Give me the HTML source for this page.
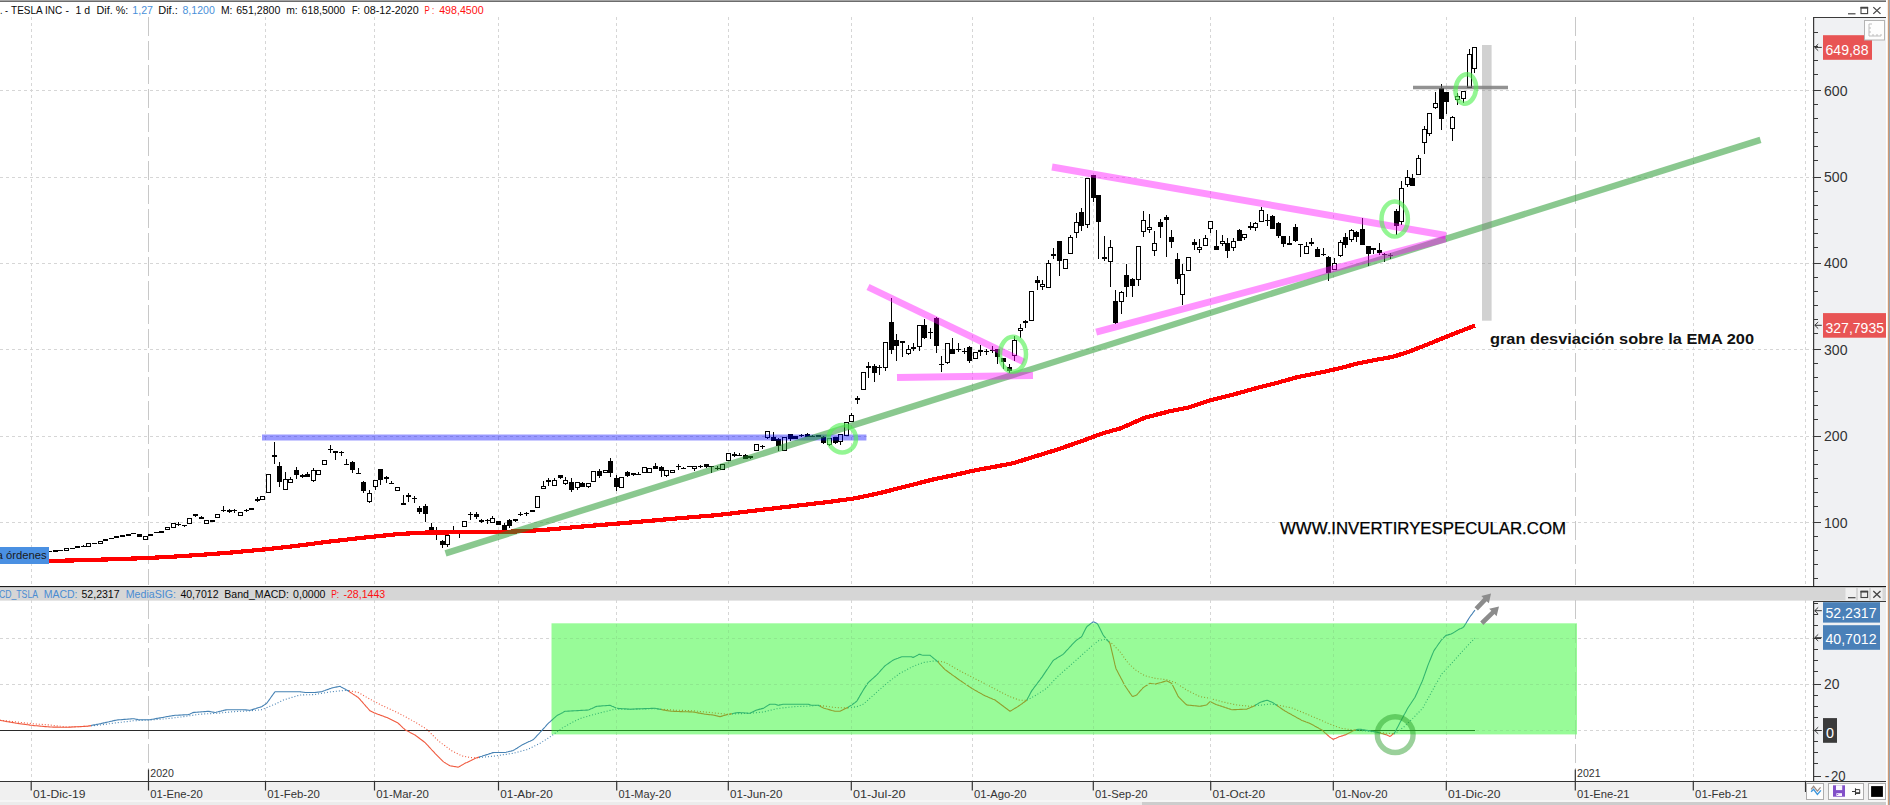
<!DOCTYPE html>
<html><head><meta charset="utf-8"><title>TESLA INC</title>
<style>html,body{margin:0;padding:0;background:#fff;}body{width:1890px;height:805px;overflow:hidden;position:relative;font-family:"Liberation Sans",sans-serif;}</style></head>
<body>
<svg width="1890" height="805" viewBox="0 0 1890 805" style="position:absolute;left:0;top:0;font-family:'Liberation Sans',sans-serif">
<rect x="0" y="0" width="1890" height="805" fill="#ffffff"/>
<rect x="1814" y="17" width="76" height="570" fill="#f0f1f3"/>
<rect x="1814" y="600" width="76" height="182" fill="#f0f1f3"/>
<rect x="0" y="782" width="1890" height="18" fill="#f0f0f0"/>
<rect x="0" y="800" width="1890" height="5" fill="#f6f6f6"/>
<rect x="0" y="802" width="1142" height="3" fill="#ececec"/>
<rect x="1142" y="802" width="748" height="3" fill="#cdcdcd"/>
<rect x="0" y="0" width="1886" height="1" fill="#a4a4a4"/><rect x="0" y="1" width="1886" height="1" fill="#6c6c6c"/>
<rect x="0" y="587" width="1886" height="13.6" fill="#d6d6d6"/>
<rect x="0" y="586" width="1886" height="1.1" fill="#1a1a1a"/>
<defs><clipPath id="cpIn"><rect x="551.5" y="623.3" width="1025.5" height="111.1"/></clipPath><clipPath id="cpOut"><path clip-rule="evenodd" d="M0,0 H1890 V805 H0 Z M551.5,623.3 V734.4 H1577 V623.3 Z"/></clipPath></defs>
<g shape-rendering="crispEdges">
<line x1="31.5" y1="17" x2="31.5" y2="585" stroke="#d6d6d6" stroke-width="1" stroke-dasharray="3 3"/>
<line x1="31.5" y1="600" x2="31.5" y2="781" stroke="#d6d6d6" stroke-width="1" stroke-dasharray="3 3" clip-path="url(#cpOut)"/>
<line x1="148.5" y1="17" x2="148.5" y2="585" stroke="#c8c8c8" stroke-width="1" stroke-dasharray="19 5"/>
<line x1="148.5" y1="600" x2="148.5" y2="781" stroke="#c8c8c8" stroke-width="1" stroke-dasharray="19 5" clip-path="url(#cpOut)"/>
<line x1="265.5" y1="17" x2="265.5" y2="585" stroke="#d6d6d6" stroke-width="1" stroke-dasharray="3 3"/>
<line x1="265.5" y1="600" x2="265.5" y2="781" stroke="#d6d6d6" stroke-width="1" stroke-dasharray="3 3" clip-path="url(#cpOut)"/>
<line x1="374.5" y1="17" x2="374.5" y2="585" stroke="#d6d6d6" stroke-width="1" stroke-dasharray="3 3"/>
<line x1="374.5" y1="600" x2="374.5" y2="781" stroke="#d6d6d6" stroke-width="1" stroke-dasharray="3 3" clip-path="url(#cpOut)"/>
<line x1="498.5" y1="17" x2="498.5" y2="585" stroke="#d6d6d6" stroke-width="1" stroke-dasharray="3 3"/>
<line x1="498.5" y1="600" x2="498.5" y2="781" stroke="#d6d6d6" stroke-width="1" stroke-dasharray="3 3" clip-path="url(#cpOut)"/>
<line x1="616.5" y1="17" x2="616.5" y2="585" stroke="#d6d6d6" stroke-width="1" stroke-dasharray="3 3"/>
<line x1="616.5" y1="600" x2="616.5" y2="781" stroke="#d6d6d6" stroke-width="1" stroke-dasharray="3 3" clip-path="url(#cpOut)"/>
<line x1="728.5" y1="17" x2="728.5" y2="585" stroke="#d6d6d6" stroke-width="1" stroke-dasharray="3 3"/>
<line x1="728.5" y1="600" x2="728.5" y2="781" stroke="#d6d6d6" stroke-width="1" stroke-dasharray="3 3" clip-path="url(#cpOut)"/>
<line x1="851.5" y1="17" x2="851.5" y2="585" stroke="#d6d6d6" stroke-width="1" stroke-dasharray="3 3"/>
<line x1="851.5" y1="600" x2="851.5" y2="781" stroke="#d6d6d6" stroke-width="1" stroke-dasharray="3 3" clip-path="url(#cpOut)"/>
<line x1="972.5" y1="17" x2="972.5" y2="585" stroke="#d6d6d6" stroke-width="1" stroke-dasharray="3 3"/>
<line x1="972.5" y1="600" x2="972.5" y2="781" stroke="#d6d6d6" stroke-width="1" stroke-dasharray="3 3" clip-path="url(#cpOut)"/>
<line x1="1093.5" y1="17" x2="1093.5" y2="585" stroke="#d6d6d6" stroke-width="1" stroke-dasharray="3 3"/>
<line x1="1093.5" y1="600" x2="1093.5" y2="781" stroke="#d6d6d6" stroke-width="1" stroke-dasharray="3 3" clip-path="url(#cpOut)"/>
<line x1="1210.5" y1="17" x2="1210.5" y2="585" stroke="#d6d6d6" stroke-width="1" stroke-dasharray="3 3"/>
<line x1="1210.5" y1="600" x2="1210.5" y2="781" stroke="#d6d6d6" stroke-width="1" stroke-dasharray="3 3" clip-path="url(#cpOut)"/>
<line x1="1333.5" y1="17" x2="1333.5" y2="585" stroke="#d6d6d6" stroke-width="1" stroke-dasharray="3 3"/>
<line x1="1333.5" y1="600" x2="1333.5" y2="781" stroke="#d6d6d6" stroke-width="1" stroke-dasharray="3 3" clip-path="url(#cpOut)"/>
<line x1="1446.5" y1="17" x2="1446.5" y2="585" stroke="#d6d6d6" stroke-width="1" stroke-dasharray="3 3"/>
<line x1="1446.5" y1="600" x2="1446.5" y2="781" stroke="#d6d6d6" stroke-width="1" stroke-dasharray="3 3" clip-path="url(#cpOut)"/>
<line x1="1575.5" y1="17" x2="1575.5" y2="585" stroke="#c8c8c8" stroke-width="1" stroke-dasharray="19 5"/>
<line x1="1575.5" y1="600" x2="1575.5" y2="781" stroke="#c8c8c8" stroke-width="1" stroke-dasharray="19 5" clip-path="url(#cpOut)"/>
<line x1="1693.5" y1="17" x2="1693.5" y2="585" stroke="#d6d6d6" stroke-width="1" stroke-dasharray="3 3"/>
<line x1="1693.5" y1="600" x2="1693.5" y2="781" stroke="#d6d6d6" stroke-width="1" stroke-dasharray="3 3" clip-path="url(#cpOut)"/>
<line x1="1805.5" y1="17" x2="1805.5" y2="585" stroke="#d6d6d6" stroke-width="1" stroke-dasharray="3 3"/>
<line x1="1805.5" y1="600" x2="1805.5" y2="781" stroke="#d6d6d6" stroke-width="1" stroke-dasharray="3 3" clip-path="url(#cpOut)"/>
<line x1="0" y1="90.5" x2="1813" y2="90.5" stroke="#d6d6d6" stroke-width="1" stroke-dasharray="3 3"/>
<line x1="0" y1="177.5" x2="1813" y2="177.5" stroke="#d6d6d6" stroke-width="1" stroke-dasharray="3 3"/>
<line x1="0" y1="263.5" x2="1813" y2="263.5" stroke="#d6d6d6" stroke-width="1" stroke-dasharray="3 3"/>
<line x1="0" y1="349.5" x2="1813" y2="349.5" stroke="#d6d6d6" stroke-width="1" stroke-dasharray="3 3"/>
<line x1="0" y1="436.5" x2="1813" y2="436.5" stroke="#d6d6d6" stroke-width="1" stroke-dasharray="3 3"/>
<line x1="0" y1="522.5" x2="1813" y2="522.5" stroke="#d6d6d6" stroke-width="1" stroke-dasharray="3 3"/>
<line x1="0" y1="638.5" x2="1813" y2="638.5" stroke="#d6d6d6" stroke-width="1" stroke-dasharray="3 3" clip-path="url(#cpOut)"/>
<line x1="0" y1="684.5" x2="1813" y2="684.5" stroke="#d6d6d6" stroke-width="1" stroke-dasharray="3 3" clip-path="url(#cpOut)"/>
<line x1="0" y1="730.5" x2="1813" y2="730.5" stroke="#d6d6d6" stroke-width="1" stroke-dasharray="3 3" clip-path="url(#cpOut)"/>
</g>
<rect x="0" y="730" width="1475" height="1" fill="#2a2a2a" shape-rendering="crispEdges"/>
<path d="M0.0,720.3 L1.0,720.5 L2.0,720.7 L3.0,720.8 L4.0,721.0 L5.0,721.2 L6.0,721.4 L7.0,721.6 L8.0,721.7 L9.0,721.9 L10.0,722.1 L11.0,722.3 L12.0,722.5 L13.0,722.6 L14.0,722.8 L15.0,723.0 L16.0,723.2 L17.0,723.3 L18.0,723.5 L19.0,723.6 L20.0,723.7 L21.0,723.9 L22.0,724.0 L23.0,724.1 L24.0,724.3 L25.0,724.4 L26.0,724.5 L27.0,724.7 L28.0,724.8 L29.0,724.9 L30.0,725.1 L31.0,725.2 L32.0,725.3 L33.0,725.5 L34.0,725.6 L35.0,725.7 L36.0,725.7 L37.0,725.8 L38.0,725.9 L39.0,726.0 L40.0,726.1 L41.0,726.2 L42.0,726.3 L43.0,726.4 L44.0,726.5 L45.0,726.6 L46.0,726.6 L47.0,726.7 L48.0,726.8 L49.0,726.9 L50.0,727.0 L51.0,727.0 L52.0,727.0 L53.0,727.1 L54.0,727.1 L55.0,727.1 L56.0,727.1 L57.0,727.1 L58.0,727.1 L59.0,727.2 L60.0,727.2 L61.0,727.2 L62.0,727.2 L63.0,727.2 L64.0,727.3 L65.0,727.3 L66.0,727.3 L67.0,727.3 L68.0,727.2 L69.0,727.2 L70.0,727.1 L71.0,727.1 L72.0,727.0 L73.0,727.0 L74.0,726.9 L75.0,726.9 L76.0,726.8 L77.0,726.8 L78.0,726.7 L79.0,726.7 L80.0,726.6 L81.0,726.6 L82.0,726.5 L83.0,726.5 L84.0,726.4 L85.0,726.4 L86.0,726.3 L87.0,726.2 L88.0,726.1 L89.0,725.9 L90.0,725.7 L91.0,725.5" fill="none" stroke="#f0593e" stroke-width="1.1" stroke-linejoin="round"/>
<path d="M91.0,725.5 L92.0,725.3 L93.0,725.1 L94.0,724.9 L95.0,724.7 L96.0,724.6 L97.0,724.4 L98.0,724.2 L99.0,724.0 L100.0,723.8 L101.0,723.6 L102.0,723.3 L103.0,723.1 L104.0,722.9 L105.0,722.7 L106.0,722.4 L107.0,722.2 L108.0,722.0 L109.0,721.8 L110.0,721.5 L111.0,721.3 L112.0,721.1 L113.0,720.8 L114.0,720.6 L115.0,720.4 L116.0,720.2 L117.0,720.0 L118.0,719.9 L119.0,719.8 L120.0,719.7 L121.0,719.7 L122.0,719.6 L123.0,719.5 L124.0,719.4 L125.0,719.4 L126.0,719.3 L127.0,719.2 L128.0,719.1 L129.0,719.0 L130.0,719.0 L131.0,718.9 L132.0,718.8 L133.0,718.7 L134.0,718.8 L135.0,719.0 L136.0,719.2 L137.0,719.4 L138.0,719.6 L139.0,719.7 L140.0,719.7 L141.0,719.7 L142.0,719.7 L143.0,719.7 L144.0,719.7 L145.0,719.7 L146.0,719.7 L147.0,719.7 L148.0,719.7 L149.0,719.7 L150.0,719.7 L151.0,719.5 L152.0,719.3 L153.0,719.2 L154.0,719.0 L155.0,718.8 L156.0,718.6 L157.0,718.4 L158.0,718.3 L159.0,718.1 L160.0,717.9 L161.0,717.7 L162.0,717.5 L163.0,717.4 L164.0,717.2 L165.0,717.0 L166.0,716.8 L167.0,716.6 L168.0,716.5 L169.0,716.3 L170.0,716.1 L171.0,716.0 L172.0,715.8 L173.0,715.6 L174.0,715.5 L175.0,715.3 L176.0,715.3 L177.0,715.2 L178.0,715.2 L179.0,715.1 L180.0,715.1 L181.0,715.0 L182.0,715.0 L183.0,714.9 L184.0,714.9 L185.0,714.8 L186.0,714.8 L187.0,714.8 L188.0,714.7 L189.0,714.4 L190.0,714.0 L191.0,713.5 L192.0,713.1 L193.0,712.6 L194.0,712.4 L195.0,712.4 L196.0,712.3 L197.0,712.2 L198.0,712.1 L199.0,712.0 L200.0,712.0 L201.0,711.9 L202.0,711.8 L203.0,711.7 L204.0,711.6 L205.0,711.6 L206.0,711.5 L207.0,711.4 L208.0,711.3 L209.0,711.4 L210.0,711.6 L211.0,711.8 L212.0,712.0 L213.0,712.1 L214.0,712.3 L215.0,712.5 L216.0,712.3 L217.0,712.0 L218.0,711.8 L219.0,711.5 L220.0,711.3 L221.0,711.1 L222.0,710.8 L223.0,710.6 L224.0,710.3 L225.0,710.1 L226.0,709.9 L227.0,709.7 L228.0,709.7 L229.0,709.7 L230.0,709.7 L231.0,709.7 L232.0,709.7 L233.0,709.7 L234.0,709.7 L235.0,709.7 L236.0,709.7 L237.0,709.7 L238.0,709.7 L239.0,709.7 L240.0,709.7 L241.0,709.7 L242.0,709.7 L243.0,709.7 L244.0,709.8 L245.0,709.9 L246.0,709.9 L247.0,710.0 L248.0,710.1 L249.0,710.2 L250.0,710.3 L251.0,710.0 L252.0,709.7 L253.0,709.4 L254.0,709.1 L255.0,708.8 L256.0,708.5 L257.0,708.1 L258.0,707.8 L259.0,707.5 L260.0,707.2 L261.0,706.9 L262.0,706.5 L263.0,705.8 L264.0,705.1 L265.0,704.5 L266.0,703.8 L267.0,702.9 L268.0,701.5 L269.0,700.1 L270.0,698.7 L271.0,697.3 L272.0,695.9 L273.0,694.5 L274.0,693.1 L275.0,691.7 L276.0,691.7 L277.0,691.7 L278.0,691.7 L279.0,691.7 L280.0,691.7 L281.0,691.7 L282.0,691.7 L283.0,691.7 L284.0,691.7 L285.0,691.7 L286.0,691.7 L287.0,691.7 L288.0,691.7 L289.0,691.7 L290.0,691.7 L291.0,691.7 L292.0,691.7 L293.0,691.7 L294.0,691.7 L295.0,691.7 L296.0,691.7 L297.0,691.7 L298.0,691.7 L299.0,691.7 L300.0,691.7 L301.0,691.9 L302.0,692.0 L303.0,692.2 L304.0,692.3 L305.0,692.5 L306.0,692.5 L307.0,692.5 L308.0,692.5 L309.0,692.5 L310.0,692.5 L311.0,692.5 L312.0,692.5 L313.0,692.5 L314.0,692.5 L315.0,692.5 L316.0,692.4 L317.0,692.3 L318.0,692.1 L319.0,692.0 L320.0,691.9 L321.0,691.8 L322.0,691.6 L323.0,691.2 L324.0,690.8 L325.0,690.5 L326.0,690.1 L327.0,689.7 L328.0,689.4 L329.0,689.0 L330.0,688.6 L331.0,688.3 L332.0,687.9 L333.0,687.7 L334.0,687.5 L335.0,687.3 L336.0,687.1 L337.0,686.9 L338.0,686.7 L339.0,686.5 L340.0,686.3 L341.0,686.9 L342.0,687.4 L343.0,688.0 L344.0,688.5 L345.0,689.1 L346.0,689.6 L347.0,690.2 L348.0,690.8 L349.0,691.5" fill="none" stroke="#4682b4" stroke-width="1.1" stroke-linejoin="round"/>
<path d="M349.0,691.5 L350.0,692.1 L351.0,692.8 L352.0,693.4 L353.0,694.1 L354.0,694.7 L355.0,695.4 L356.0,696.0 L357.0,696.7 L358.0,697.3 L359.0,698.3 L360.0,699.4 L361.0,700.6 L362.0,701.7 L363.0,702.8 L364.0,704.0 L365.0,705.1 L366.0,706.3 L367.0,707.4 L368.0,708.5 L369.0,709.7 L370.0,710.8 L371.0,711.3 L372.0,711.8 L373.0,712.3 L374.0,712.8 L375.0,713.1 L376.0,713.5 L377.0,713.9 L378.0,714.3 L379.0,714.6 L380.0,715.0 L381.0,715.4 L382.0,715.7 L383.0,716.1 L384.0,716.5 L385.0,716.9 L386.0,717.2 L387.0,717.6 L388.0,718.1 L389.0,718.6 L390.0,719.1 L391.0,719.6 L392.0,720.1 L393.0,720.6 L394.0,721.1 L395.0,721.6 L396.0,722.1 L397.0,722.6 L398.0,723.1 L399.0,724.0 L400.0,724.9 L401.0,725.9 L402.0,726.8 L403.0,727.8 L404.0,728.7 L405.0,729.7 L406.0,730.2 L407.0,730.8 L408.0,731.3 L409.0,731.8 L410.0,732.4 L411.0,732.9 L412.0,733.4 L413.0,733.9 L414.0,734.5 L415.0,735.0 L416.0,735.8 L417.0,736.5 L418.0,737.2 L419.0,738.0 L420.0,738.8 L421.0,739.5 L422.0,740.2 L423.0,741.0 L424.0,741.8 L425.0,742.5 L426.0,743.6 L427.0,744.7 L428.0,745.7 L429.0,746.8 L430.0,747.9 L431.0,749.0 L432.0,750.1 L433.0,751.1 L434.0,752.2 L435.0,753.3 L436.0,754.3 L437.0,755.3 L438.0,756.3 L439.0,757.3 L440.0,758.4 L441.0,759.4 L442.0,760.4 L443.0,761.4 L444.0,762.1 L445.0,762.7 L446.0,763.4 L447.0,764.0 L448.0,764.6 L449.0,765.2 L450.0,765.8 L451.0,766.0 L452.0,766.1 L453.0,766.3 L454.0,766.5 L455.0,766.6 L456.0,766.8 L457.0,767.0 L458.0,767.1 L459.0,766.8 L460.0,766.2 L461.0,765.6 L462.0,765.0 L463.0,764.5 L464.0,763.9 L465.0,763.3 L466.0,762.8 L467.0,762.4 L468.0,761.9 L469.0,761.4 L470.0,760.9 L471.0,760.5 L472.0,760.0 L473.0,759.5 L474.0,759.1 L475.0,758.6 L476.0,758.1 L477.0,757.7 L478.0,757.4 L479.0,757.1" fill="none" stroke="#f0593e" stroke-width="1.1" stroke-linejoin="round"/>
<path d="M479.0,757.1 L480.0,756.8 L481.0,756.5 L482.0,756.2 L483.0,755.8 L484.0,755.5 L485.0,755.2 L486.0,754.9 L487.0,754.6 L488.0,754.3 L489.0,753.9 L490.0,753.6 L491.0,753.3 L492.0,752.9 L493.0,752.6 L494.0,752.5 L495.0,752.5 L496.0,752.5 L497.0,752.5 L498.0,752.5 L499.0,752.5 L500.0,752.5 L501.0,752.5 L502.0,752.5 L503.0,752.5 L504.0,752.5 L505.0,752.5 L506.0,752.3 L507.0,752.0 L508.0,751.8 L509.0,751.5 L510.0,751.3 L511.0,751.1 L512.0,750.8 L513.0,750.6 L514.0,750.1 L515.0,749.4 L516.0,748.8 L517.0,748.2 L518.0,747.5 L519.0,746.9 L520.0,746.3 L521.0,745.6 L522.0,745.0 L523.0,744.4 L524.0,743.9 L525.0,743.4 L526.0,743.0 L527.0,742.5 L528.0,742.1 L529.0,741.6 L530.0,741.2 L531.0,740.7 L532.0,740.3 L533.0,739.8 L534.0,738.9 L535.0,737.9 L536.0,736.8 L537.0,735.7 L538.0,734.6 L539.0,733.6 L540.0,732.5 L541.0,731.4 L542.0,730.3 L543.0,729.2 L544.0,728.1 L545.0,727.0 L546.0,725.8 L547.0,724.7 L548.0,723.6 L549.0,722.7 L550.0,721.8 L551.0,720.9 L552.0,720.0 L553.0,719.1 L554.0,718.2 L555.0,717.3 L556.0,716.4 L557.0,715.6 L558.0,715.1 L559.0,714.6 L560.0,714.0 L561.0,713.5 L562.0,712.9 L563.0,712.4 L564.0,711.8 L565.0,711.3 L566.0,711.2 L567.0,711.2 L568.0,711.1 L569.0,711.1 L570.0,711.0 L571.0,711.0 L572.0,710.9 L573.0,710.9 L574.0,710.8 L575.0,710.7 L576.0,710.7 L577.0,710.6 L578.0,710.6 L579.0,710.5 L580.0,710.5 L581.0,710.4 L582.0,710.4 L583.0,710.3 L584.0,710.2 L585.0,710.2 L586.0,710.1 L587.0,710.1 L588.0,710.0 L589.0,709.7 L590.0,709.3 L591.0,708.8 L592.0,708.4 L593.0,707.9 L594.0,707.5 L595.0,707.0 L596.0,706.6 L597.0,706.3 L598.0,706.2 L599.0,706.1 L600.0,706.1 L601.0,706.0 L602.0,705.9 L603.0,705.8 L604.0,705.8 L605.0,705.7 L606.0,705.6 L607.0,705.5 L608.0,705.5 L609.0,705.4 L610.0,705.3 L611.0,705.7 L612.0,706.2 L613.0,706.6 L614.0,707.1 L615.0,707.5 L616.0,708.0 L617.0,708.3 L618.0,708.4 L619.0,708.5 L620.0,708.5 L621.0,708.6 L622.0,708.7 L623.0,708.7 L624.0,708.8 L625.0,708.9 L626.0,708.9 L627.0,709.0 L628.0,709.1 L629.0,709.1 L630.0,709.2 L631.0,709.2 L632.0,709.1 L633.0,709.1 L634.0,709.0 L635.0,709.0 L636.0,708.9 L637.0,708.9 L638.0,708.9 L639.0,708.8 L640.0,708.8 L641.0,708.7 L642.0,708.7 L643.0,708.7 L644.0,708.6 L645.0,708.6 L646.0,708.6 L647.0,708.5 L648.0,708.5 L649.0,708.5 L650.0,708.5 L651.0,708.4 L652.0,708.4 L653.0,708.4 L654.0,708.3 L655.0,708.3 L656.0,708.5 L657.0,708.7 L658.0,708.9 L659.0,709.1 L660.0,709.3 L661.0,709.5" fill="none" stroke="#4682b4" stroke-width="1.1" stroke-linejoin="round"/>
<path d="M661.0,709.5 L662.0,709.7 L663.0,709.9 L664.0,710.1 L665.0,710.3 L666.0,710.4 L667.0,710.6 L668.0,710.7 L669.0,710.9 L670.0,711.0 L671.0,711.2 L672.0,711.3 L673.0,711.3 L674.0,711.4 L675.0,711.4 L676.0,711.4 L677.0,711.5 L678.0,711.5 L679.0,711.5 L680.0,711.6 L681.0,711.6 L682.0,711.6 L683.0,711.7 L684.0,711.7 L685.0,711.7 L686.0,711.8 L687.0,711.8 L688.0,711.8 L689.0,711.9 L690.0,711.9 L691.0,711.9 L692.0,712.0 L693.0,712.0 L694.0,712.1 L695.0,712.3 L696.0,712.5 L697.0,712.7 L698.0,712.9 L699.0,713.1 L700.0,713.3 L701.0,713.4 L702.0,713.6 L703.0,713.8 L704.0,714.0 L705.0,714.2 L706.0,714.3 L707.0,714.4 L708.0,714.5 L709.0,714.6 L710.0,714.7 L711.0,714.8 L712.0,714.9 L713.0,715.0 L714.0,715.2 L715.0,715.4 L716.0,715.7 L717.0,715.9 L718.0,716.2 L719.0,716.4 L720.0,716.7 L721.0,716.4 L722.0,716.1 L723.0,715.8 L724.0,715.5 L725.0,715.2 L726.0,714.9 L727.0,714.6 L728.0,714.5 L729.0,714.3 L730.0,714.1 L731.0,713.9 L732.0,713.7" fill="none" stroke="#f0593e" stroke-width="1.1" stroke-linejoin="round"/>
<path d="M732.0,713.7 L733.0,713.5 L734.0,713.3 L735.0,713.1 L736.0,712.9 L737.0,712.7 L738.0,712.6 L739.0,712.5 L740.0,712.6 L741.0,712.7 L742.0,712.8 L743.0,712.8 L744.0,712.9 L745.0,713.0 L746.0,713.0 L747.0,713.1 L748.0,713.2 L749.0,713.2 L750.0,713.3 L751.0,712.8 L752.0,712.3 L753.0,711.8 L754.0,711.3 L755.0,710.8 L756.0,710.3 L757.0,709.9 L758.0,709.7 L759.0,709.4 L760.0,709.1 L761.0,708.9 L762.0,708.6 L763.0,708.4 L764.0,707.9 L765.0,707.3 L766.0,706.6 L767.0,706.0 L768.0,705.4 L769.0,704.8 L770.0,704.2 L771.0,704.2 L772.0,704.2 L773.0,704.2 L774.0,704.2 L775.0,704.2 L776.0,704.5 L777.0,704.9 L778.0,705.2 L779.0,705.1 L780.0,704.9 L781.0,704.7 L782.0,704.5 L783.0,704.3 L784.0,704.2 L785.0,704.2 L786.0,704.2 L787.0,704.2 L788.0,704.2 L789.0,704.2 L790.0,704.2 L791.0,704.2 L792.0,704.2 L793.0,704.2 L794.0,704.2 L795.0,704.2 L796.0,704.2 L797.0,704.2 L798.0,704.2 L799.0,704.2 L800.0,704.2 L801.0,704.2 L802.0,704.2 L803.0,704.2 L804.0,704.2 L805.0,704.2 L806.0,704.2 L807.0,704.2 L808.0,704.2 L809.0,704.4 L810.0,704.8 L811.0,705.1 L812.0,705.3 L813.0,705.3 L814.0,705.3 L815.0,705.3 L816.0,705.3 L817.0,705.3 L818.0,705.3 L819.0,705.7 L820.0,706.2" fill="none" stroke="#4682b4" stroke-width="1.1" stroke-linejoin="round"/>
<path d="M820.0,706.2 L821.0,706.8 L822.0,707.3 L823.0,707.8 L824.0,708.2 L825.0,708.5 L826.0,708.8 L827.0,709.0 L828.0,709.3 L829.0,709.6 L830.0,709.9 L831.0,710.2 L832.0,710.5 L833.0,710.7 L834.0,711.0 L835.0,711.3 L836.0,711.3 L837.0,711.3 L838.0,711.3 L839.0,711.3 L840.0,711.3 L841.0,710.8 L842.0,710.3 L843.0,709.8 L844.0,709.3 L845.0,708.8 L846.0,708.3 L847.0,707.8 L848.0,707.2" fill="none" stroke="#f0593e" stroke-width="1.1" stroke-linejoin="round"/>
<path d="M848.0,707.2 L849.0,706.6 L850.0,706.0 L851.0,705.4 L852.0,704.8 L853.0,704.0 L854.0,703.3 L855.0,702.6 L856.0,701.8 L857.0,700.8 L858.0,699.1 L859.0,697.4 L860.0,695.6 L861.0,693.9 L862.0,692.2 L863.0,690.5 L864.0,688.9 L865.0,687.4 L866.0,685.9 L867.0,684.4 L868.0,682.9 L869.0,681.9 L870.0,681.0 L871.0,680.1 L872.0,679.2 L873.0,678.3 L874.0,677.4 L875.0,676.5 L876.0,675.6 L877.0,674.7 L878.0,673.6 L879.0,672.5 L880.0,671.3 L881.0,670.2 L882.0,669.1 L883.0,668.0 L884.0,666.9 L885.0,665.8 L886.0,665.1 L887.0,664.4 L888.0,663.7 L889.0,663.0 L890.0,662.3 L891.0,661.6 L892.0,660.9 L893.0,660.2 L894.0,659.7 L895.0,659.3 L896.0,658.9 L897.0,658.5 L898.0,658.2 L899.0,657.8 L900.0,657.4 L901.0,657.0 L902.0,656.7 L903.0,656.7 L904.0,656.7 L905.0,656.7 L906.0,656.7 L907.0,656.7 L908.0,656.7 L909.0,656.7 L910.0,656.7 L911.0,656.7 L912.0,656.9 L913.0,657.4 L914.0,657.1 L915.0,656.5 L916.0,656.0 L917.0,655.4 L918.0,654.9 L919.0,654.3 L920.0,654.4 L921.0,654.7 L922.0,655.0 L923.0,655.2 L924.0,655.3 L925.0,655.3 L926.0,655.3 L927.0,655.3 L928.0,655.3 L929.0,655.3 L930.0,655.3 L931.0,656.1 L932.0,656.9 L933.0,657.8 L934.0,658.6 L935.0,659.4 L936.0,660.2 L937.0,661.1 L938.0,662.2" fill="none" stroke="#4682b4" stroke-width="1.1" stroke-linejoin="round"/>
<path d="M938.0,662.2 L939.0,663.2 L940.0,664.3 L941.0,665.4 L942.0,666.4 L943.0,667.5 L944.0,668.5 L945.0,669.6 L946.0,670.3 L947.0,671.0 L948.0,671.8 L949.0,672.5 L950.0,673.2 L951.0,673.9 L952.0,674.7 L953.0,675.4 L954.0,676.1 L955.0,676.8 L956.0,677.5 L957.0,678.3 L958.0,679.0 L959.0,679.7 L960.0,680.4 L961.0,681.0 L962.0,681.7 L963.0,682.4 L964.0,683.1 L965.0,683.8 L966.0,684.4 L967.0,685.1 L968.0,685.8 L969.0,686.5 L970.0,687.1 L971.0,687.8 L972.0,688.5 L973.0,689.0 L974.0,689.6 L975.0,690.2 L976.0,690.7 L977.0,691.3 L978.0,691.9 L979.0,692.4 L980.0,693.0 L981.0,693.5 L982.0,694.1 L983.0,694.7 L984.0,695.2 L985.0,695.8 L986.0,696.2 L987.0,696.6 L988.0,697.1 L989.0,697.5 L990.0,697.9 L991.0,698.3 L992.0,698.7 L993.0,699.2 L994.0,699.6 L995.0,700.0 L996.0,700.8 L997.0,701.5 L998.0,702.3 L999.0,703.0 L1000.0,703.8 L1001.0,704.5 L1002.0,705.3 L1003.0,706.0 L1004.0,706.8 L1005.0,707.5 L1006.0,708.3 L1007.0,709.0 L1008.0,709.8 L1009.0,710.5 L1010.0,711.3 L1011.0,710.7 L1012.0,710.1 L1013.0,709.5 L1014.0,708.9 L1015.0,708.3 L1016.0,707.7 L1017.0,707.1 L1018.0,706.5 L1019.0,705.8 L1020.0,705.1 L1021.0,704.4 L1022.0,703.7 L1023.0,702.9 L1024.0,702.2 L1025.0,701.5 L1026.0,700.8 L1027.0,699.7" fill="none" stroke="#f0593e" stroke-width="1.1" stroke-linejoin="round"/>
<path d="M1027.0,699.7 L1028.0,697.8 L1029.0,695.9 L1030.0,694.0 L1031.0,692.1 L1032.0,690.4 L1033.0,689.1 L1034.0,687.7 L1035.0,686.4 L1036.0,685.1 L1037.0,683.8 L1038.0,682.4 L1039.0,681.1 L1040.0,679.8 L1041.0,678.4 L1042.0,677.1 L1043.0,675.6 L1044.0,674.1 L1045.0,672.6 L1046.0,671.1 L1047.0,669.6 L1048.0,668.2 L1049.0,666.7 L1050.0,665.2 L1051.0,663.7 L1052.0,662.2 L1053.0,660.7 L1054.0,659.9 L1055.0,659.3 L1056.0,658.7 L1057.0,658.0 L1058.0,657.4 L1059.0,656.8 L1060.0,656.2 L1061.0,655.6 L1062.0,655.0 L1063.0,654.4 L1064.0,653.4 L1065.0,652.3 L1066.0,651.2 L1067.0,650.1 L1068.0,649.1 L1069.0,648.0 L1070.0,646.9 L1071.0,645.8 L1072.0,644.7 L1073.0,643.7 L1074.0,642.7 L1075.0,641.7 L1076.0,640.7 L1077.0,639.8 L1078.0,639.1 L1079.0,638.5 L1080.0,637.8 L1081.0,637.2 L1082.0,636.1 L1083.0,634.1 L1084.0,632.1 L1085.0,630.1 L1086.0,628.1 L1087.0,626.5 L1088.0,625.7 L1089.0,625.0 L1090.0,624.2 L1091.0,623.4 L1092.0,622.7 L1093.0,621.9 L1094.0,622.0 L1095.0,622.5 L1096.0,623.0 L1097.0,623.5 L1098.0,624.7 L1099.0,626.7 L1100.0,628.7 L1101.0,630.7 L1102.0,632.7 L1103.0,634.7 L1104.0,636.1 L1105.0,637.3 L1106.0,638.5 L1107.0,639.7 L1108.0,640.9 L1109.0,642.1" fill="none" stroke="#4682b4" stroke-width="1.1" stroke-linejoin="round"/>
<path d="M1109.0,642.1 L1110.0,643.3 L1111.0,647.6 L1112.0,651.9 L1113.0,656.2 L1114.0,660.5 L1115.0,664.9 L1116.0,668.7 L1117.0,670.6 L1118.0,672.5 L1119.0,674.4 L1120.0,676.3 L1121.0,678.2 L1122.0,680.1 L1123.0,682.0 L1124.0,683.9 L1125.0,685.8 L1126.0,687.3 L1127.0,688.7 L1128.0,690.2 L1129.0,691.6 L1130.0,693.1 L1131.0,694.5 L1132.0,696.0 L1133.0,696.5 L1134.0,696.1 L1135.0,695.7 L1136.0,695.3 L1137.0,694.7 L1138.0,693.5 L1139.0,692.4 L1140.0,691.2 L1141.0,690.1 L1142.0,689.0 L1143.0,687.8 L1144.0,687.1 L1145.0,686.4 L1146.0,685.8 L1147.0,685.2 L1148.0,684.6 L1149.0,683.9 L1150.0,683.3 L1151.0,683.5 L1152.0,683.7 L1153.0,683.8 L1154.0,684.0 L1155.0,684.2 L1156.0,683.9 L1157.0,683.6 L1158.0,683.3 L1159.0,683.0 L1160.0,682.7 L1161.0,682.5 L1162.0,682.2 L1163.0,681.9 L1164.0,681.6 L1165.0,681.3 L1166.0,681.0 L1167.0,680.9 L1168.0,681.4 L1169.0,681.9 L1170.0,682.4 L1171.0,682.9 L1172.0,683.9 L1173.0,685.9 L1174.0,688.0 L1175.0,690.0 L1176.0,692.0 L1177.0,694.1 L1178.0,696.1 L1179.0,697.4 L1180.0,698.4 L1181.0,699.4 L1182.0,700.4 L1183.0,701.3 L1184.0,702.3 L1185.0,703.3 L1186.0,704.3 L1187.0,705.0 L1188.0,705.1 L1189.0,705.2 L1190.0,705.3 L1191.0,705.4 L1192.0,705.5 L1193.0,705.6 L1194.0,705.7 L1195.0,705.8 L1196.0,705.9 L1197.0,706.0 L1198.0,706.1 L1199.0,706.2 L1200.0,706.3 L1201.0,706.1 L1202.0,705.9 L1203.0,705.7 L1204.0,705.5 L1205.0,705.3 L1206.0,705.1 L1207.0,704.7 L1208.0,703.7 L1209.0,702.7 L1210.0,701.7 L1211.0,702.1 L1212.0,702.6 L1213.0,703.0 L1214.0,703.5 L1215.0,703.9 L1216.0,704.4 L1217.0,704.8 L1218.0,705.1 L1219.0,705.5 L1220.0,705.8 L1221.0,706.1 L1222.0,706.5 L1223.0,706.8 L1224.0,707.1 L1225.0,707.5 L1226.0,707.8 L1227.0,708.1 L1228.0,708.5 L1229.0,708.8 L1230.0,709.1 L1231.0,709.5 L1232.0,709.7 L1233.0,709.7 L1234.0,709.6 L1235.0,709.6 L1236.0,709.6 L1237.0,709.5 L1238.0,709.5 L1239.0,709.5 L1240.0,709.4 L1241.0,709.4 L1242.0,709.4 L1243.0,709.3 L1244.0,709.3 L1245.0,709.3 L1246.0,709.2 L1247.0,709.1 L1248.0,708.6 L1249.0,708.2 L1250.0,707.8 L1251.0,707.3 L1252.0,706.9 L1253.0,706.4 L1254.0,705.9 L1255.0,705.3" fill="none" stroke="#f0593e" stroke-width="1.1" stroke-linejoin="round"/>
<path d="M1255.0,705.3 L1256.0,704.7 L1257.0,704.2 L1258.0,703.6 L1259.0,703.0 L1260.0,702.4 L1261.0,702.0 L1262.0,701.7 L1263.0,701.4 L1264.0,701.1 L1265.0,700.8 L1266.0,700.5 L1267.0,700.2 L1268.0,700.6 L1269.0,701.0 L1270.0,701.4 L1271.0,701.8 L1272.0,702.2 L1273.0,702.7 L1274.0,703.4 L1275.0,704.1 L1276.0,704.8 L1277.0,705.5" fill="none" stroke="#4682b4" stroke-width="1.1" stroke-linejoin="round"/>
<path d="M1277.0,705.5 L1278.0,706.2 L1279.0,706.9 L1280.0,707.6 L1281.0,708.3 L1282.0,709.0 L1283.0,709.7 L1284.0,710.3 L1285.0,711.0 L1286.0,711.6 L1287.0,712.1 L1288.0,712.7 L1289.0,713.2 L1290.0,713.8 L1291.0,714.3 L1292.0,714.9 L1293.0,715.4 L1294.0,716.0 L1295.0,716.5 L1296.0,717.1 L1297.0,717.7 L1298.0,718.2 L1299.0,718.8 L1300.0,719.3 L1301.0,719.9 L1302.0,720.4 L1303.0,720.8 L1304.0,721.2 L1305.0,721.6 L1306.0,722.0 L1307.0,722.3 L1308.0,722.7 L1309.0,723.1 L1310.0,723.5 L1311.0,724.0 L1312.0,724.5 L1313.0,725.1 L1314.0,725.6 L1315.0,726.2 L1316.0,726.7 L1317.0,727.3 L1318.0,727.8 L1319.0,728.4 L1320.0,728.9 L1321.0,729.5 L1322.0,730.0 L1323.0,730.9 L1324.0,731.8 L1325.0,732.8 L1326.0,733.7 L1327.0,734.6 L1328.0,735.5 L1329.0,736.4 L1330.0,737.2 L1331.0,737.9 L1332.0,738.5 L1333.0,739.2 L1334.0,739.1 L1335.0,738.6 L1336.0,738.2 L1337.0,737.7 L1338.0,737.3 L1339.0,736.8 L1340.0,736.5 L1341.0,736.2 L1342.0,735.9 L1343.0,735.6 L1344.0,735.2 L1345.0,734.9 L1346.0,734.6 L1347.0,734.1 L1348.0,733.6 L1349.0,733.0 L1350.0,732.5 L1351.0,731.9 L1352.0,731.4 L1353.0,730.8 L1354.0,730.4 L1355.0,730.1 L1356.0,729.9" fill="none" stroke="#f0593e" stroke-width="1.1" stroke-linejoin="round"/>
<path d="M1356.0,729.9 L1357.0,729.6 L1358.0,729.4 L1359.0,729.2 L1360.0,729.2 L1361.0,729.4 L1362.0,729.6 L1363.0,729.7 L1364.0,729.9 L1365.0,730.1 L1366.0,730.3 L1367.0,730.4 L1368.0,730.6 L1369.0,730.8 L1370.0,730.9 L1371.0,731.1 L1372.0,731.2 L1373.0,731.4 L1374.0,731.6 L1375.0,731.7 L1376.0,731.9 L1377.0,732.2 L1378.0,732.4 L1379.0,732.7 L1380.0,733.0" fill="none" stroke="#4682b4" stroke-width="1.1" stroke-linejoin="round"/>
<path d="M1380.0,733.0 L1381.0,733.3 L1382.0,733.5 L1383.0,733.8 L1384.0,734.1 L1385.0,734.4 L1386.0,734.7 L1387.0,735.1 L1388.0,735.6 L1389.0,736.0 L1390.0,736.4 L1391.0,735.7 L1392.0,734.9 L1393.0,734.1 L1394.0,733.3" fill="none" stroke="#f0593e" stroke-width="1.1" stroke-linejoin="round"/>
<path d="M1394.0,733.3 L1395.0,732.1 L1396.0,730.2 L1397.0,728.3 L1398.0,726.4 L1399.0,724.5 L1400.0,722.6 L1401.0,720.7 L1402.0,718.8 L1403.0,717.0 L1404.0,715.1 L1405.0,713.3 L1406.0,711.4 L1407.0,709.6 L1408.0,707.8 L1409.0,706.3 L1410.0,704.8 L1411.0,703.3 L1412.0,701.7 L1413.0,700.2 L1414.0,698.7 L1415.0,697.2 L1416.0,695.1 L1417.0,692.9 L1418.0,690.6 L1419.0,688.4 L1420.0,686.1 L1421.0,683.9 L1422.0,681.7 L1423.0,679.3 L1424.0,676.4 L1425.0,673.6 L1426.0,670.8 L1427.0,668.0 L1428.0,665.1 L1429.0,662.6 L1430.0,660.2 L1431.0,657.7 L1432.0,655.3 L1433.0,652.9 L1434.0,650.6 L1435.0,649.1 L1436.0,647.7 L1437.0,646.3 L1438.0,644.8 L1439.0,643.4 L1440.0,642.0 L1441.0,640.5 L1442.0,639.4 L1443.0,638.4 L1444.0,637.4 L1445.0,636.4 L1446.0,635.4 L1447.0,635.1 L1448.0,634.9 L1449.0,634.6 L1450.0,634.3 L1451.0,634.1 L1452.0,633.6 L1453.0,633.0 L1454.0,632.4 L1455.0,631.8 L1456.0,631.1 L1457.0,630.5 L1458.0,629.9 L1459.0,629.3 L1460.0,628.8 L1461.0,628.4 L1462.0,627.9 L1463.0,627.4 L1464.0,626.5 L1465.0,624.8 L1466.0,623.2 L1467.0,621.5 L1468.0,619.9 L1469.0,618.2 L1470.0,616.8 L1471.0,615.4 L1472.0,614.1 L1473.0,612.7 L1474.0,611.4 L1475.0,610.2" fill="none" stroke="#4682b4" stroke-width="1.1" stroke-linejoin="round"/>
<path d="M0.0,720.3 L1.0,720.4 L2.0,720.5 L3.0,720.6 L4.0,720.7 L5.0,720.8 L6.0,720.9 L7.0,721.0 L8.0,721.1 L9.0,721.2 L10.0,721.3 L11.0,721.4 L12.0,721.5 L13.0,721.6 L14.0,721.7 L15.0,721.8 L16.0,721.9 L17.0,722.0 L18.0,722.1 L19.0,722.2 L20.0,722.4 L21.0,722.5 L22.0,722.6 L23.0,722.7 L24.0,722.8 L25.0,722.9 L26.0,723.0 L27.0,723.1 L28.0,723.2 L29.0,723.3 L30.0,723.4 L31.0,723.6 L32.0,723.7 L33.0,723.8 L34.0,723.9 L35.0,723.9 L36.0,724.0 L37.0,724.1 L38.0,724.1 L39.0,724.2 L40.0,724.3 L41.0,724.4 L42.0,724.4 L43.0,724.5 L44.0,724.6 L45.0,724.6 L46.0,724.7 L47.0,724.8 L48.0,724.9 L49.0,724.9 L50.0,725.0 L51.0,725.1 L52.0,725.2 L53.0,725.4 L54.0,725.5 L55.0,725.6 L56.0,725.7 L57.0,725.8 L58.0,726.0 L59.0,726.1 L60.0,726.2 L61.0,726.3 L62.0,726.4 L63.0,726.6 L64.0,726.7 L65.0,726.8 L66.0,726.9 L67.0,727.0 L68.0,727.0 L69.0,726.9 L70.0,726.9 L71.0,726.8 L72.0,726.8 L73.0,726.8 L74.0,726.7 L75.0,726.7 L76.0,726.7 L77.0,726.6 L78.0,726.6 L79.0,726.6 L80.0,726.5 L81.0,726.5 L82.0,726.5 L83.0,726.4 L84.0,726.4 L85.0,726.4 L86.0,726.3 L87.0,726.3 L88.0,726.2 L89.0,726.1 L90.0,726.0 L91.0,725.9" fill="none" stroke="#f0593e" stroke-width="1.1" stroke-dasharray="1 2"/>
<path d="M91.0,725.9 L92.0,725.8 L93.0,725.7 L94.0,725.6 L95.0,725.5 L96.0,725.4 L97.0,725.3 L98.0,725.2 L99.0,725.1 L100.0,725.0 L101.0,724.9 L102.0,724.7 L103.0,724.6 L104.0,724.5 L105.0,724.3 L106.0,724.2 L107.0,724.1 L108.0,723.9 L109.0,723.8 L110.0,723.7 L111.0,723.6 L112.0,723.4 L113.0,723.3 L114.0,723.2 L115.0,723.0 L116.0,722.9 L117.0,722.8 L118.0,722.6 L119.0,722.5 L120.0,722.4 L121.0,722.3 L122.0,722.2 L123.0,722.0 L124.0,721.9 L125.0,721.8 L126.0,721.7 L127.0,721.6 L128.0,721.4 L129.0,721.3 L130.0,721.2 L131.0,721.1 L132.0,721.0 L133.0,720.8 L134.0,720.8 L135.0,720.7 L136.0,720.7 L137.0,720.6 L138.0,720.6 L139.0,720.5 L140.0,720.5 L141.0,720.4 L142.0,720.4 L143.0,720.3 L144.0,720.3 L145.0,720.2 L146.0,720.2 L147.0,720.1 L148.0,720.1 L149.0,720.0 L150.0,720.0 L151.0,719.9 L152.0,719.8 L153.0,719.8 L154.0,719.7 L155.0,719.6 L156.0,719.5 L157.0,719.5 L158.0,719.4 L159.0,719.3 L160.0,719.2 L161.0,719.1 L162.0,719.1 L163.0,719.0 L164.0,718.9 L165.0,718.8 L166.0,718.8 L167.0,718.7 L168.0,718.5 L169.0,718.4 L170.0,718.3 L171.0,718.2 L172.0,718.1 L173.0,717.9 L174.0,717.8 L175.0,717.7 L176.0,717.6 L177.0,717.5 L178.0,717.3 L179.0,717.2 L180.0,717.1 L181.0,717.0 L182.0,716.9 L183.0,716.7 L184.0,716.6 L185.0,716.4 L186.0,716.3 L187.0,716.1 L188.0,716.0 L189.0,715.8 L190.0,715.7 L191.0,715.5 L192.0,715.4 L193.0,715.2 L194.0,715.1 L195.0,714.9 L196.0,714.8 L197.0,714.6 L198.0,714.5 L199.0,714.3 L200.0,714.2 L201.0,714.1 L202.0,714.1 L203.0,714.0 L204.0,714.0 L205.0,713.9 L206.0,713.9 L207.0,713.8 L208.0,713.8 L209.0,713.7 L210.0,713.7 L211.0,713.6 L212.0,713.6 L213.0,713.5 L214.0,713.4 L215.0,713.4 L216.0,713.3 L217.0,713.3 L218.0,713.2 L219.0,713.1 L220.0,713.0 L221.0,712.9 L222.0,712.8 L223.0,712.7 L224.0,712.6 L225.0,712.5 L226.0,712.4 L227.0,712.3 L228.0,712.2 L229.0,712.1 L230.0,712.0 L231.0,711.9 L232.0,711.8 L233.0,711.7 L234.0,711.7 L235.0,711.6 L236.0,711.6 L237.0,711.5 L238.0,711.4 L239.0,711.4 L240.0,711.3 L241.0,711.3 L242.0,711.2 L243.0,711.2 L244.0,711.1 L245.0,711.1 L246.0,711.0 L247.0,711.0 L248.0,710.9 L249.0,710.9 L250.0,710.8 L251.0,710.7 L252.0,710.6 L253.0,710.5 L254.0,710.4 L255.0,710.3 L256.0,710.2 L257.0,710.1 L258.0,710.0 L259.0,710.0 L260.0,709.9 L261.0,709.8 L262.0,709.6 L263.0,709.2 L264.0,708.7 L265.0,708.3 L266.0,707.9 L267.0,707.5 L268.0,707.1 L269.0,706.7 L270.0,706.3 L271.0,705.9 L272.0,705.4 L273.0,705.0 L274.0,704.6 L275.0,704.2 L276.0,703.7 L277.0,703.2 L278.0,702.7 L279.0,702.2 L280.0,701.7 L281.0,701.2 L282.0,700.7 L283.0,700.2 L284.0,699.8 L285.0,699.5 L286.0,699.2 L287.0,698.9 L288.0,698.6 L289.0,698.3 L290.0,698.0 L291.0,697.7 L292.0,697.4 L293.0,697.1 L294.0,696.8 L295.0,696.5 L296.0,696.2 L297.0,695.9 L298.0,695.6 L299.0,695.3 L300.0,695.0 L301.0,695.0 L302.0,694.9 L303.0,694.9 L304.0,694.9 L305.0,694.8 L306.0,694.8 L307.0,694.8 L308.0,694.7 L309.0,694.7 L310.0,694.7 L311.0,694.6 L312.0,694.6 L313.0,694.6 L314.0,694.5 L315.0,694.5 L316.0,694.3 L317.0,694.2 L318.0,694.0 L319.0,693.8 L320.0,693.7 L321.0,693.5 L322.0,693.3 L323.0,693.2 L324.0,693.0 L325.0,692.8 L326.0,692.7 L327.0,692.5 L328.0,692.3 L329.0,692.2 L330.0,692.0 L331.0,691.8 L332.0,691.7 L333.0,691.6 L334.0,691.5 L335.0,691.4 L336.0,691.3 L337.0,691.2 L338.0,691.1 L339.0,691.0 L340.0,690.9 L341.0,690.8 L342.0,690.7 L343.0,690.6 L344.0,690.6 L345.0,690.5 L346.0,690.4 L347.0,690.4 L348.0,690.5 L349.0,690.7" fill="none" stroke="#4682b4" stroke-width="1.1" stroke-dasharray="1 2"/>
<path d="M349.0,690.7 L350.0,690.9 L351.0,691.1 L352.0,691.3 L353.0,691.5 L354.0,691.7 L355.0,691.9 L356.0,692.1 L357.0,692.3 L358.0,692.4 L359.0,692.9 L360.0,693.5 L361.0,694.0 L362.0,694.6 L363.0,695.2 L364.0,695.8 L365.0,696.3 L366.0,696.9 L367.0,697.5 L368.0,698.1 L369.0,698.6 L370.0,699.2 L371.0,699.7 L372.0,700.2 L373.0,700.8 L374.0,701.3 L375.0,701.8 L376.0,702.3 L377.0,702.8 L378.0,703.4 L379.0,703.9 L380.0,704.4 L381.0,704.9 L382.0,705.4 L383.0,705.9 L384.0,706.4 L385.0,706.8 L386.0,707.3 L387.0,707.8 L388.0,708.2 L389.0,708.7 L390.0,709.1 L391.0,709.6 L392.0,710.1 L393.0,710.5 L394.0,711.0 L395.0,711.5 L396.0,711.9 L397.0,712.4 L398.0,712.9 L399.0,713.4 L400.0,713.9 L401.0,714.5 L402.0,715.0 L403.0,715.5 L404.0,716.1 L405.0,716.6 L406.0,717.1 L407.0,717.7 L408.0,718.2 L409.0,718.8 L410.0,719.3 L411.0,719.8 L412.0,720.4 L413.0,720.9 L414.0,721.5 L415.0,722.0 L416.0,722.6 L417.0,723.2 L418.0,723.8 L419.0,724.5 L420.0,725.1 L421.0,725.7 L422.0,726.3 L423.0,726.9 L424.0,727.5 L425.0,728.2 L426.0,728.8 L427.0,729.5 L428.0,730.5 L429.0,731.5 L430.0,732.5 L431.0,733.5 L432.0,734.5 L433.0,735.5 L434.0,736.5 L435.0,737.5 L436.0,738.5 L437.0,739.5 L438.0,740.5 L439.0,741.3 L440.0,742.1 L441.0,742.8 L442.0,743.6 L443.0,744.3 L444.0,745.1 L445.0,745.8 L446.0,746.5 L447.0,747.3 L448.0,748.0 L449.0,748.8 L450.0,749.5 L451.0,750.3 L452.0,750.9 L453.0,751.4 L454.0,751.9 L455.0,752.4 L456.0,752.9 L457.0,753.4 L458.0,753.9 L459.0,754.4 L460.0,754.9 L461.0,755.4 L462.0,755.9 L463.0,756.1 L464.0,756.3 L465.0,756.5 L466.0,756.7 L467.0,756.9 L468.0,757.1 L469.0,757.3 L470.0,757.5 L471.0,757.5 L472.0,757.6 L473.0,757.6 L474.0,757.7 L475.0,757.7 L476.0,757.8 L477.0,757.8 L478.0,757.7 L479.0,757.6" fill="none" stroke="#f0593e" stroke-width="1.1" stroke-dasharray="1 2"/>
<path d="M479.0,757.6 L480.0,757.5 L481.0,757.4 L482.0,757.3 L483.0,757.2 L484.0,757.1 L485.0,757.0 L486.0,756.9 L487.0,756.8 L488.0,756.7 L489.0,756.6 L490.0,756.5 L491.0,756.4 L492.0,756.3 L493.0,756.2 L494.0,756.1 L495.0,756.0 L496.0,755.8 L497.0,755.7 L498.0,755.5 L499.0,755.4 L500.0,755.2 L501.0,755.1 L502.0,754.9 L503.0,754.8 L504.0,754.6 L505.0,754.5 L506.0,754.4 L507.0,754.2 L508.0,754.1 L509.0,753.9 L510.0,753.8 L511.0,753.6 L512.0,753.5 L513.0,753.3 L514.0,753.1 L515.0,752.8 L516.0,752.6 L517.0,752.3 L518.0,752.0 L519.0,751.7 L520.0,751.5 L521.0,751.2 L522.0,750.9 L523.0,750.6 L524.0,750.4 L525.0,750.1 L526.0,749.8 L527.0,749.6 L528.0,749.3 L529.0,748.8 L530.0,748.3 L531.0,747.8 L532.0,747.3 L533.0,746.8 L534.0,746.3 L535.0,745.8 L536.0,745.3 L537.0,744.8 L538.0,744.3 L539.0,743.8 L540.0,743.3 L541.0,742.7 L542.0,742.0 L543.0,741.4 L544.0,740.7 L545.0,740.1 L546.0,739.5 L547.0,738.8 L548.0,738.2 L549.0,737.5 L550.0,736.9 L551.0,736.2 L552.0,735.6 L553.0,734.8 L554.0,734.1 L555.0,733.3 L556.0,732.6 L557.0,731.8 L558.0,731.1 L559.0,730.3 L560.0,729.6 L561.0,728.8 L562.0,728.1 L563.0,727.6 L564.0,727.0 L565.0,726.4 L566.0,725.9 L567.0,725.3 L568.0,724.7 L569.0,724.1 L570.0,723.6 L571.0,723.0 L572.0,722.4 L573.0,721.9 L574.0,721.4 L575.0,721.0 L576.0,720.5 L577.0,720.1 L578.0,719.6 L579.0,719.2 L580.0,718.7 L581.0,718.3 L582.0,717.9 L583.0,717.6 L584.0,717.3 L585.0,717.1 L586.0,716.8 L587.0,716.5 L588.0,716.2 L589.0,715.9 L590.0,715.6 L591.0,715.4 L592.0,715.1 L593.0,714.8 L594.0,714.5 L595.0,714.2 L596.0,714.0 L597.0,713.7 L598.0,713.4 L599.0,713.1 L600.0,712.9 L601.0,712.6 L602.0,712.4 L603.0,712.1 L604.0,711.9 L605.0,711.7 L606.0,711.4 L607.0,711.2 L608.0,710.9 L609.0,710.7 L610.0,710.4 L611.0,710.2 L612.0,709.9 L613.0,709.7 L614.0,709.4 L615.0,709.2 L616.0,709.2 L617.0,709.2 L618.0,709.2 L619.0,709.2 L620.0,709.2 L621.0,709.2 L622.0,709.2 L623.0,709.3 L624.0,709.3 L625.0,709.3 L626.0,709.3 L627.0,709.3 L628.0,709.3 L629.0,709.3 L630.0,709.3 L631.0,709.3 L632.0,709.3 L633.0,709.2 L634.0,709.2 L635.0,709.2 L636.0,709.2 L637.0,709.1 L638.0,709.1 L639.0,709.1 L640.0,709.1 L641.0,709.0 L642.0,709.0 L643.0,709.0 L644.0,709.0 L645.0,708.9 L646.0,708.9 L647.0,708.9 L648.0,708.9 L649.0,708.8 L650.0,708.8 L651.0,708.8 L652.0,708.8 L653.0,708.7 L654.0,708.7 L655.0,708.7 L656.0,708.8 L657.0,708.9 L658.0,708.9 L659.0,709.0 L660.0,709.1 L661.0,709.2" fill="none" stroke="#4682b4" stroke-width="1.1" stroke-dasharray="1 2"/>
<path d="M661.0,709.2 L662.0,709.2 L663.0,709.3 L664.0,709.4 L665.0,709.5 L666.0,709.6 L667.0,709.6 L668.0,709.7 L669.0,709.8 L670.0,709.9 L671.0,709.9 L672.0,710.0 L673.0,710.0 L674.0,710.1 L675.0,710.1 L676.0,710.2 L677.0,710.2 L678.0,710.2 L679.0,710.3 L680.0,710.3 L681.0,710.3 L682.0,710.4 L683.0,710.4 L684.0,710.5 L685.0,710.5 L686.0,710.5 L687.0,710.6 L688.0,710.6 L689.0,710.6 L690.0,710.7 L691.0,710.7 L692.0,710.8 L693.0,710.8 L694.0,710.9 L695.0,711.0 L696.0,711.1 L697.0,711.2 L698.0,711.3 L699.0,711.4 L700.0,711.5 L701.0,711.6 L702.0,711.7 L703.0,711.8 L704.0,711.9 L705.0,712.0 L706.0,712.1 L707.0,712.2 L708.0,712.3 L709.0,712.4 L710.0,712.5 L711.0,712.6 L712.0,712.7 L713.0,712.8 L714.0,712.9 L715.0,713.0 L716.0,713.1 L717.0,713.2 L718.0,713.3 L719.0,713.4 L720.0,713.5 L721.0,713.6 L722.0,713.7 L723.0,713.8 L724.0,713.9 L725.0,714.0 L726.0,714.1 L727.0,714.2 L728.0,714.1 L729.0,714.1 L730.0,714.1 L731.0,714.0 L732.0,714.0" fill="none" stroke="#f0593e" stroke-width="1.1" stroke-dasharray="1 2"/>
<path d="M732.0,714.0 L733.0,714.0 L734.0,713.9 L735.0,713.9 L736.0,713.8 L737.0,713.8 L738.0,713.8 L739.0,713.7 L740.0,713.7 L741.0,713.6 L742.0,713.6 L743.0,713.6 L744.0,713.5 L745.0,713.5 L746.0,713.5 L747.0,713.4 L748.0,713.4 L749.0,713.3 L750.0,713.3 L751.0,713.2 L752.0,713.1 L753.0,713.0 L754.0,712.9 L755.0,712.8 L756.0,712.7 L757.0,712.6 L758.0,712.5 L759.0,712.4 L760.0,712.3 L761.0,712.2 L762.0,712.1 L763.0,712.0 L764.0,711.8 L765.0,711.6 L766.0,711.3 L767.0,711.1 L768.0,710.8 L769.0,710.6 L770.0,710.4 L771.0,710.1 L772.0,709.9 L773.0,709.6 L774.0,709.4 L775.0,709.1 L776.0,708.9 L777.0,708.7 L778.0,708.5 L779.0,708.4 L780.0,708.3 L781.0,708.2 L782.0,708.1 L783.0,707.9 L784.0,707.8 L785.0,707.7 L786.0,707.6 L787.0,707.5 L788.0,707.3 L789.0,707.2 L790.0,707.1 L791.0,707.0 L792.0,706.9 L793.0,706.7 L794.0,706.7 L795.0,706.6 L796.0,706.6 L797.0,706.6 L798.0,706.5 L799.0,706.5 L800.0,706.5 L801.0,706.4 L802.0,706.4 L803.0,706.4 L804.0,706.3 L805.0,706.3 L806.0,706.3 L807.0,706.2 L808.0,706.2 L809.0,706.1 L810.0,706.0 L811.0,706.0 L812.0,705.9 L813.0,705.8 L814.0,705.7 L815.0,705.6 L816.0,705.5 L817.0,705.4 L818.0,705.3 L819.0,705.4 L820.0,705.5" fill="none" stroke="#4682b4" stroke-width="1.1" stroke-dasharray="1 2"/>
<path d="M820.0,705.5 L821.0,705.7 L822.0,705.8 L823.0,705.9 L824.0,706.1 L825.0,706.2 L826.0,706.3 L827.0,706.4 L828.0,706.6 L829.0,706.7 L830.0,706.8 L831.0,707.0 L832.0,707.1 L833.0,707.2 L834.0,707.4 L835.0,707.5 L836.0,707.5 L837.0,707.6 L838.0,707.6 L839.0,707.7 L840.0,707.7 L841.0,707.8 L842.0,707.8 L843.0,707.8 L844.0,707.9 L845.0,707.9 L846.0,708.0 L847.0,708.0 L848.0,707.8" fill="none" stroke="#f0593e" stroke-width="1.1" stroke-dasharray="1 2"/>
<path d="M848.0,707.8 L849.0,707.7 L850.0,707.6 L851.0,707.4 L852.0,707.3 L853.0,707.2 L854.0,707.1 L855.0,706.9 L856.0,706.8 L857.0,706.6 L858.0,706.2 L859.0,705.8 L860.0,705.5 L861.0,705.1 L862.0,704.7 L863.0,704.3 L864.0,703.6 L865.0,702.7 L866.0,701.8 L867.0,700.9 L868.0,700.0 L869.0,699.1 L870.0,698.2 L871.0,697.3 L872.0,696.4 L873.0,695.5 L874.0,694.6 L875.0,693.7 L876.0,692.8 L877.0,691.9 L878.0,691.0 L879.0,690.1 L880.0,689.2 L881.0,688.4 L882.0,687.5 L883.0,686.7 L884.0,685.8 L885.0,685.0 L886.0,684.2 L887.0,683.3 L888.0,682.5 L889.0,681.6 L890.0,680.8 L891.0,680.0 L892.0,679.3 L893.0,678.5 L894.0,677.8 L895.0,677.0 L896.0,676.3 L897.0,675.5 L898.0,674.8 L899.0,674.0 L900.0,673.3 L901.0,672.8 L902.0,672.2 L903.0,671.7 L904.0,671.2 L905.0,670.7 L906.0,670.1 L907.0,669.6 L908.0,669.1 L909.0,668.6 L910.0,668.0 L911.0,667.5 L912.0,667.0 L913.0,666.5 L914.0,666.0 L915.0,665.7 L916.0,665.3 L917.0,664.9 L918.0,664.5 L919.0,664.1 L920.0,663.8 L921.0,663.4 L922.0,663.0 L923.0,662.6 L924.0,662.4 L925.0,662.3 L926.0,662.1 L927.0,662.0 L928.0,661.8 L929.0,661.7 L930.0,661.5 L931.0,661.4 L932.0,661.2 L933.0,661.1 L934.0,660.9 L935.0,660.8 L936.0,660.9 L937.0,661.1 L938.0,661.2" fill="none" stroke="#4682b4" stroke-width="1.1" stroke-dasharray="1 2"/>
<path d="M938.0,661.2 L939.0,661.4 L940.0,661.5 L941.0,661.6 L942.0,661.8 L943.0,661.9 L944.0,662.1 L945.0,662.2 L946.0,662.8 L947.0,663.4 L948.0,664.0 L949.0,664.5 L950.0,665.1 L951.0,665.7 L952.0,666.3 L953.0,666.9 L954.0,667.5 L955.0,668.1 L956.0,668.7 L957.0,669.2 L958.0,669.8 L959.0,670.4 L960.0,670.9 L961.0,671.4 L962.0,671.9 L963.0,672.5 L964.0,673.0 L965.0,673.5 L966.0,674.0 L967.0,674.5 L968.0,675.1 L969.0,675.6 L970.0,676.1 L971.0,676.6 L972.0,677.2 L973.0,677.7 L974.0,678.2 L975.0,678.7 L976.0,679.2 L977.0,679.7 L978.0,680.2 L979.0,680.7 L980.0,681.2 L981.0,681.7 L982.0,682.2 L983.0,682.7 L984.0,683.2 L985.0,683.7 L986.0,684.2 L987.0,684.8 L988.0,685.3 L989.0,685.8 L990.0,686.4 L991.0,686.9 L992.0,687.4 L993.0,688.0 L994.0,688.5 L995.0,689.0 L996.0,689.6 L997.0,690.1 L998.0,690.6 L999.0,691.2 L1000.0,691.7 L1001.0,692.2 L1002.0,692.7 L1003.0,693.2 L1004.0,693.7 L1005.0,694.2 L1006.0,694.7 L1007.0,695.2 L1008.0,695.7 L1009.0,696.2 L1010.0,696.7 L1011.0,697.1 L1012.0,697.4 L1013.0,697.8 L1014.0,698.1 L1015.0,698.5 L1016.0,698.9 L1017.0,699.2 L1018.0,699.6 L1019.0,699.9 L1020.0,700.3 L1021.0,700.3 L1022.0,700.3 L1023.0,700.3 L1024.0,700.3 L1025.0,700.3 L1026.0,700.3 L1027.0,700.1" fill="none" stroke="#f0593e" stroke-width="1.1" stroke-dasharray="1 2"/>
<path d="M1027.0,700.1 L1028.0,699.6 L1029.0,699.0 L1030.0,698.5 L1031.0,697.9 L1032.0,697.3 L1033.0,696.8 L1034.0,696.2 L1035.0,695.7 L1036.0,695.1 L1037.0,694.5 L1038.0,693.9 L1039.0,693.2 L1040.0,692.6 L1041.0,691.9 L1042.0,691.3 L1043.0,690.7 L1044.0,690.0 L1045.0,689.4 L1046.0,688.7 L1047.0,688.0 L1048.0,686.9 L1049.0,685.8 L1050.0,684.7 L1051.0,683.7 L1052.0,682.6 L1053.0,681.5 L1054.0,680.4 L1055.0,679.4 L1056.0,678.3 L1057.0,677.2 L1058.0,676.1 L1059.0,675.2 L1060.0,674.3 L1061.0,673.5 L1062.0,672.6 L1063.0,671.7 L1064.0,670.9 L1065.0,670.0 L1066.0,669.1 L1067.0,668.3 L1068.0,667.4 L1069.0,666.5 L1070.0,665.7 L1071.0,664.8 L1072.0,663.9 L1073.0,663.0 L1074.0,662.1 L1075.0,661.2 L1076.0,660.3 L1077.0,659.4 L1078.0,658.5 L1079.0,657.6 L1080.0,656.7 L1081.0,655.8 L1082.0,654.9 L1083.0,654.0 L1084.0,653.1 L1085.0,652.2 L1086.0,651.3 L1087.0,650.4 L1088.0,649.5 L1089.0,648.6 L1090.0,647.7 L1091.0,646.8 L1092.0,645.9 L1093.0,645.0 L1094.0,644.2 L1095.0,643.4 L1096.0,642.6 L1097.0,641.8 L1098.0,641.0 L1099.0,640.6 L1100.0,640.4 L1101.0,640.2 L1102.0,639.9 L1103.0,639.7 L1104.0,639.4 L1105.0,639.2 L1106.0,639.8 L1107.0,640.4 L1108.0,641.0 L1109.0,641.6" fill="none" stroke="#4682b4" stroke-width="1.1" stroke-dasharray="1 2"/>
<path d="M1109.0,641.6 L1110.0,642.3 L1111.0,642.9 L1112.0,643.6 L1113.0,644.6 L1114.0,645.6 L1115.0,646.6 L1116.0,647.7 L1117.0,648.7 L1118.0,649.7 L1119.0,650.7 L1120.0,651.7 L1121.0,653.1 L1122.0,654.5 L1123.0,655.9 L1124.0,657.3 L1125.0,658.7 L1126.0,660.1 L1127.0,661.5 L1128.0,662.9 L1129.0,663.9 L1130.0,664.8 L1131.0,665.7 L1132.0,666.6 L1133.0,667.5 L1134.0,668.4 L1135.0,669.3 L1136.0,670.2 L1137.0,671.0 L1138.0,671.6 L1139.0,672.2 L1140.0,672.8 L1141.0,673.4 L1142.0,674.0 L1143.0,674.6 L1144.0,675.2 L1145.0,675.8 L1146.0,676.0 L1147.0,676.3 L1148.0,676.5 L1149.0,676.8 L1150.0,677.0 L1151.0,677.3 L1152.0,677.5 L1153.0,677.8 L1154.0,678.0 L1155.0,678.3 L1156.0,678.4 L1157.0,678.5 L1158.0,678.7 L1159.0,678.8 L1160.0,678.9 L1161.0,679.0 L1162.0,679.1 L1163.0,679.3 L1164.0,679.4 L1165.0,679.5 L1166.0,679.6 L1167.0,679.8 L1168.0,680.1 L1169.0,680.5 L1170.0,680.8 L1171.0,681.2 L1172.0,681.5 L1173.0,681.8 L1174.0,682.2 L1175.0,682.5 L1176.0,683.1 L1177.0,683.8 L1178.0,684.4 L1179.0,685.1 L1180.0,685.7 L1181.0,686.3 L1182.0,687.0 L1183.0,687.6 L1184.0,688.3 L1185.0,688.9 L1186.0,689.6 L1187.0,690.2 L1188.0,690.7 L1189.0,691.2 L1190.0,691.7 L1191.0,692.2 L1192.0,692.7 L1193.0,693.2 L1194.0,693.7 L1195.0,694.2 L1196.0,694.7 L1197.0,695.2 L1198.0,695.7 L1199.0,696.2 L1200.0,696.7 L1201.0,696.9 L1202.0,697.0 L1203.0,697.2 L1204.0,697.3 L1205.0,697.5 L1206.0,697.7 L1207.0,697.8 L1208.0,698.0 L1209.0,698.1 L1210.0,698.3 L1211.0,698.6 L1212.0,698.9 L1213.0,699.2 L1214.0,699.5 L1215.0,699.8 L1216.0,700.0 L1217.0,700.3 L1218.0,700.6 L1219.0,700.9 L1220.0,701.2 L1221.0,701.5 L1222.0,701.8 L1223.0,702.0 L1224.0,702.2 L1225.0,702.4 L1226.0,702.6 L1227.0,702.9 L1228.0,703.1 L1229.0,703.3 L1230.0,703.5 L1231.0,703.7 L1232.0,704.0 L1233.0,704.2 L1234.0,704.4 L1235.0,704.6 L1236.0,704.8 L1237.0,705.0 L1238.0,705.1 L1239.0,705.2 L1240.0,705.3 L1241.0,705.4 L1242.0,705.5 L1243.0,705.6 L1244.0,705.7 L1245.0,705.8 L1246.0,705.9 L1247.0,706.0 L1248.0,706.1 L1249.0,706.2 L1250.0,706.3 L1251.0,706.2 L1252.0,706.1 L1253.0,706.0 L1254.0,705.9 L1255.0,705.8" fill="none" stroke="#f0593e" stroke-width="1.1" stroke-dasharray="1 2"/>
<path d="M1255.0,705.8 L1256.0,705.6 L1257.0,705.5 L1258.0,705.4 L1259.0,705.3 L1260.0,705.2 L1261.0,705.1 L1262.0,705.0 L1263.0,704.8 L1264.0,704.7 L1265.0,704.6 L1266.0,704.5 L1267.0,704.4 L1268.0,704.2 L1269.0,704.1 L1270.0,704.0 L1271.0,704.2 L1272.0,704.3 L1273.0,704.4 L1274.0,704.6 L1275.0,704.7 L1276.0,704.9 L1277.0,705.0" fill="none" stroke="#4682b4" stroke-width="1.1" stroke-dasharray="1 2"/>
<path d="M1277.0,705.0 L1278.0,705.1 L1279.0,705.3 L1280.0,705.5 L1281.0,705.7 L1282.0,705.9 L1283.0,706.1 L1284.0,706.3 L1285.0,706.5 L1286.0,706.8 L1287.0,707.0 L1288.0,707.2 L1289.0,707.4 L1290.0,707.6 L1291.0,707.8 L1292.0,708.0 L1293.0,708.4 L1294.0,708.8 L1295.0,709.2 L1296.0,709.7 L1297.0,710.1 L1298.0,710.5 L1299.0,710.9 L1300.0,711.3 L1301.0,711.7 L1302.0,712.2 L1303.0,712.6 L1304.0,713.0 L1305.0,713.4 L1306.0,713.8 L1307.0,714.3 L1308.0,714.7 L1309.0,715.1 L1310.0,715.5 L1311.0,715.9 L1312.0,716.4 L1313.0,716.8 L1314.0,717.2 L1315.0,717.7 L1316.0,718.1 L1317.0,718.5 L1318.0,719.0 L1319.0,719.4 L1320.0,719.8 L1321.0,720.2 L1322.0,720.7 L1323.0,721.1 L1324.0,721.5 L1325.0,722.0 L1326.0,722.4 L1327.0,722.8 L1328.0,723.3 L1329.0,723.7 L1330.0,724.1 L1331.0,724.5 L1332.0,724.9 L1333.0,725.2 L1334.0,725.6 L1335.0,726.0 L1336.0,726.4 L1337.0,726.8 L1338.0,727.2 L1339.0,727.5 L1340.0,727.9 L1341.0,728.2 L1342.0,728.4 L1343.0,728.5 L1344.0,728.7 L1345.0,728.8 L1346.0,729.0 L1347.0,729.1 L1348.0,729.3 L1349.0,729.4 L1350.0,729.5 L1351.0,729.7 L1352.0,729.8 L1353.0,730.0 L1354.0,730.1 L1355.0,730.2 L1356.0,730.3" fill="none" stroke="#f0593e" stroke-width="1.1" stroke-dasharray="1 2"/>
<path d="M1356.0,730.3 L1357.0,730.3 L1358.0,730.4 L1359.0,730.5 L1360.0,730.6 L1361.0,730.7 L1362.0,730.7 L1363.0,730.8 L1364.0,730.9 L1365.0,731.0 L1366.0,731.0 L1367.0,731.1 L1368.0,731.2 L1369.0,731.3 L1370.0,731.4 L1371.0,731.5 L1372.0,731.6 L1373.0,731.7 L1374.0,731.8 L1375.0,731.9 L1376.0,732.1 L1377.0,732.2 L1378.0,732.3 L1379.0,732.4 L1380.0,732.5" fill="none" stroke="#4682b4" stroke-width="1.1" stroke-dasharray="1 2"/>
<path d="M1380.0,732.5 L1381.0,732.7 L1382.0,732.8 L1383.0,732.9 L1384.0,733.0 L1385.0,733.2 L1386.0,733.2 L1387.0,733.3 L1388.0,733.4 L1389.0,733.4 L1390.0,733.5 L1391.0,733.6 L1392.0,733.6 L1393.0,733.7 L1394.0,733.8" fill="none" stroke="#f0593e" stroke-width="1.1" stroke-dasharray="1 2"/>
<path d="M1394.0,733.8 L1395.0,733.6 L1396.0,732.8 L1397.0,732.1 L1398.0,731.3 L1399.0,730.6 L1400.0,729.8 L1401.0,729.0 L1402.0,728.3 L1403.0,727.5 L1404.0,726.8 L1405.0,725.8 L1406.0,724.9 L1407.0,723.9 L1408.0,723.0 L1409.0,722.0 L1410.0,721.1 L1411.0,720.1 L1412.0,719.1 L1413.0,718.2 L1414.0,717.2 L1415.0,716.1 L1416.0,715.1 L1417.0,714.0 L1418.0,713.0 L1419.0,712.0 L1420.0,710.9 L1421.0,709.9 L1422.0,708.8 L1423.0,707.6 L1424.0,705.8 L1425.0,703.9 L1426.0,702.1 L1427.0,700.3 L1428.0,698.5 L1429.0,696.7 L1430.0,694.9 L1431.0,693.1 L1432.0,691.3 L1433.0,689.5 L1434.0,687.7 L1435.0,685.9 L1436.0,684.1 L1437.0,682.3 L1438.0,680.5 L1439.0,678.7 L1440.0,676.8 L1441.0,675.0 L1442.0,673.7 L1443.0,672.7 L1444.0,671.6 L1445.0,670.5 L1446.0,669.4 L1447.0,668.3 L1448.0,667.2 L1449.0,666.1 L1450.0,665.1 L1451.0,664.0 L1452.0,662.9 L1453.0,661.8 L1454.0,660.6 L1455.0,659.5 L1456.0,658.4 L1457.0,657.3 L1458.0,656.2 L1459.0,655.1 L1460.0,654.0 L1461.0,652.9 L1462.0,651.8 L1463.0,650.7 L1464.0,649.6 L1465.0,648.5 L1466.0,647.4 L1467.0,646.3 L1468.0,645.2 L1469.0,644.1 L1470.0,643.1 L1471.0,642.1 L1472.0,641.1 L1473.0,640.1 L1474.0,639.1 L1475.0,638.2" fill="none" stroke="#4682b4" stroke-width="1.1" stroke-dasharray="1 2"/>
<rect x="551.5" y="623.3" width="1025.5" height="111.1" fill="rgb(26,246,26)" fill-opacity="0.45"/>
<g shape-rendering="crispEdges"><line x1="616.5" y1="600" x2="616.5" y2="781" stroke="#8ee88e" stroke-width="1" stroke-dasharray="3 3" clip-path="url(#cpIn)"/><line x1="728.5" y1="600" x2="728.5" y2="781" stroke="#8ee88e" stroke-width="1" stroke-dasharray="3 3" clip-path="url(#cpIn)"/><line x1="851.5" y1="600" x2="851.5" y2="781" stroke="#8ee88e" stroke-width="1" stroke-dasharray="3 3" clip-path="url(#cpIn)"/><line x1="972.5" y1="600" x2="972.5" y2="781" stroke="#8ee88e" stroke-width="1" stroke-dasharray="3 3" clip-path="url(#cpIn)"/><line x1="1093.5" y1="600" x2="1093.5" y2="781" stroke="#8ee88e" stroke-width="1" stroke-dasharray="3 3" clip-path="url(#cpIn)"/><line x1="1210.5" y1="600" x2="1210.5" y2="781" stroke="#8ee88e" stroke-width="1" stroke-dasharray="3 3" clip-path="url(#cpIn)"/><line x1="1333.5" y1="600" x2="1333.5" y2="781" stroke="#8ee88e" stroke-width="1" stroke-dasharray="3 3" clip-path="url(#cpIn)"/><line x1="1446.5" y1="600" x2="1446.5" y2="781" stroke="#8ee88e" stroke-width="1" stroke-dasharray="3 3" clip-path="url(#cpIn)"/><line x1="1575.5" y1="600" x2="1575.5" y2="781" stroke="#8ee88e" stroke-width="1" stroke-dasharray="19 5" clip-path="url(#cpIn)"/><line x1="0" y1="638.5" x2="1813" y2="638.5" stroke="#8ee88e" stroke-width="1" stroke-dasharray="3 3" clip-path="url(#cpIn)"/><line x1="0" y1="684.5" x2="1813" y2="684.5" stroke="#8ee88e" stroke-width="1" stroke-dasharray="3 3" clip-path="url(#cpIn)"/><line x1="1476" y1="730.5" x2="1813" y2="730.5" stroke="#8ee88e" stroke-width="1" stroke-dasharray="3 3" clip-path="url(#cpIn)"/></g>
<circle cx="1395.2" cy="734.6" r="17.9" fill="none" stroke="#1e961e" stroke-opacity="0.45" stroke-width="5.4"/>
<polygon points="1477.9,610.4 1486.7,601.2 1488.9,603.3 1491.0,593.5 1481.3,596.0 1483.4,598.0 1474.5,607.2" fill="#8c8c8c"/>
<polygon points="1483.4,624.9 1494.5,614.1 1496.6,616.2 1499.0,606.5 1489.2,608.7 1491.3,610.8 1480.2,621.5" fill="#8c8c8c"/>
<g shape-rendering="crispEdges">
<rect x="47" y="551" width="5" height="1" fill="#000"/>
<rect x="53" y="550" width="5" height="2" fill="#000"/>
<rect x="58" y="550" width="5" height="1" fill="#000"/>
<rect x="64" y="548" width="5" height="3" fill="#000"/>
<rect x="65" y="549" width="3" height="1" fill="#fff"/>
<rect x="70" y="548" width="5" height="1" fill="#000"/>
<rect x="75" y="546" width="5" height="2" fill="#000"/>
<rect x="83" y="545" width="1" height="2" fill="#000"/>
<rect x="81" y="546" width="5" height="1" fill="#000"/>
<rect x="86" y="543" width="5" height="4" fill="#000"/>
<rect x="87" y="544" width="3" height="2" fill="#fff"/>
<rect x="92" y="543" width="5" height="1" fill="#000"/>
<rect x="98" y="541" width="5" height="3" fill="#000"/>
<rect x="99" y="542" width="3" height="1" fill="#fff"/>
<rect x="103" y="539" width="5" height="2" fill="#000"/>
<rect x="109" y="538" width="5" height="1" fill="#000"/>
<rect x="114" y="536" width="5" height="2" fill="#000"/>
<rect x="120" y="535" width="5" height="2" fill="#000"/>
<rect x="126" y="534" width="5" height="2" fill="#000"/>
<rect x="131" y="533" width="5" height="1" fill="#000"/>
<rect x="137" y="534" width="5" height="3" fill="#000"/>
<rect x="143" y="536" width="5" height="4" fill="#000"/>
<rect x="144" y="537" width="3" height="2" fill="#fff"/>
<rect x="148" y="534" width="5" height="2" fill="#000"/>
<rect x="154" y="532" width="5" height="1" fill="#000"/>
<rect x="159" y="531" width="5" height="2" fill="#000"/>
<rect x="165" y="527" width="5" height="3" fill="#000"/>
<rect x="166" y="528" width="3" height="1" fill="#fff"/>
<rect x="171" y="523" width="5" height="5" fill="#000"/>
<rect x="172" y="524" width="3" height="3" fill="#fff"/>
<rect x="178" y="522" width="1" height="4" fill="#000"/>
<rect x="176" y="524" width="5" height="1" fill="#000"/>
<rect x="184" y="525" width="1" height="2" fill="#000"/>
<rect x="182" y="525" width="5" height="1" fill="#000"/>
<rect x="187" y="518" width="5" height="6" fill="#000"/>
<rect x="188" y="519" width="3" height="4" fill="#fff"/>
<rect x="195" y="514" width="1" height="3" fill="#000"/>
<rect x="193" y="514" width="5" height="2" fill="#000"/>
<rect x="201" y="516" width="1" height="3" fill="#000"/>
<rect x="199" y="517" width="5" height="2" fill="#000"/>
<rect x="204" y="520" width="5" height="4" fill="#000"/>
<rect x="205" y="521" width="3" height="2" fill="#fff"/>
<rect x="210" y="520" width="5" height="2" fill="#000"/>
<rect x="215" y="514" width="5" height="4" fill="#000"/>
<rect x="216" y="515" width="3" height="2" fill="#fff"/>
<rect x="223" y="506" width="1" height="6" fill="#000"/>
<rect x="221" y="510" width="5" height="1" fill="#000"/>
<rect x="229" y="509" width="1" height="4" fill="#000"/>
<rect x="227" y="510" width="5" height="2" fill="#000"/>
<rect x="234" y="509" width="1" height="4" fill="#000"/>
<rect x="232" y="510" width="5" height="1" fill="#000"/>
<rect x="238" y="512" width="5" height="4" fill="#000"/>
<rect x="239" y="513" width="3" height="2" fill="#fff"/>
<rect x="246" y="509" width="1" height="3" fill="#000"/>
<rect x="244" y="510" width="5" height="1" fill="#000"/>
<rect x="249" y="508" width="5" height="2" fill="#000"/>
<rect x="257" y="497" width="1" height="5" fill="#000"/>
<rect x="255" y="499" width="5" height="2" fill="#000"/>
<rect x="260" y="496" width="5" height="4" fill="#000"/>
<rect x="261" y="497" width="3" height="2" fill="#fff"/>
<rect x="266" y="474" width="5" height="19" fill="#000"/>
<rect x="267" y="475" width="3" height="17" fill="#fff"/>
<rect x="274" y="442" width="1" height="22" fill="#000"/>
<rect x="272" y="455" width="5" height="2" fill="#000"/>
<rect x="279" y="462" width="1" height="25" fill="#000"/>
<rect x="277" y="466" width="5" height="16" fill="#000"/>
<rect x="285" y="472" width="1" height="18" fill="#000"/>
<rect x="283" y="479" width="5" height="11" fill="#000"/>
<rect x="284" y="480" width="3" height="9" fill="#fff"/>
<rect x="290" y="477" width="1" height="6" fill="#000"/>
<rect x="288" y="479" width="5" height="4" fill="#000"/>
<rect x="289" y="480" width="3" height="2" fill="#fff"/>
<rect x="296" y="467" width="1" height="12" fill="#000"/>
<rect x="294" y="470" width="5" height="5" fill="#000"/>
<rect x="302" y="474" width="1" height="4" fill="#000"/>
<rect x="300" y="475" width="5" height="2" fill="#000"/>
<rect x="307" y="472" width="1" height="5" fill="#000"/>
<rect x="305" y="474" width="5" height="3" fill="#000"/>
<rect x="313" y="468" width="1" height="14" fill="#000"/>
<rect x="311" y="470" width="5" height="11" fill="#000"/>
<rect x="312" y="471" width="3" height="9" fill="#fff"/>
<rect x="316" y="470" width="5" height="5" fill="#000"/>
<rect x="317" y="471" width="3" height="3" fill="#fff"/>
<rect x="322" y="460" width="5" height="5" fill="#000"/>
<rect x="323" y="461" width="3" height="3" fill="#fff"/>
<rect x="330" y="445" width="1" height="8" fill="#000"/>
<rect x="328" y="449" width="5" height="1" fill="#000"/>
<rect x="335" y="451" width="1" height="9" fill="#000"/>
<rect x="333" y="451" width="5" height="2" fill="#000"/>
<rect x="341" y="451" width="1" height="5" fill="#000"/>
<rect x="339" y="452" width="5" height="1" fill="#000"/>
<rect x="346" y="459" width="1" height="6" fill="#000"/>
<rect x="344" y="464" width="5" height="1" fill="#000"/>
<rect x="352" y="461" width="1" height="12" fill="#000"/>
<rect x="350" y="462" width="5" height="8" fill="#000"/>
<rect x="358" y="468" width="1" height="6" fill="#000"/>
<rect x="356" y="473" width="5" height="1" fill="#000"/>
<rect x="363" y="481" width="1" height="12" fill="#000"/>
<rect x="361" y="482" width="5" height="9" fill="#000"/>
<rect x="369" y="490" width="1" height="13" fill="#000"/>
<rect x="367" y="493" width="5" height="9" fill="#000"/>
<rect x="368" y="494" width="3" height="7" fill="#fff"/>
<rect x="375" y="480" width="1" height="10" fill="#000"/>
<rect x="373" y="480" width="5" height="7" fill="#000"/>
<rect x="374" y="481" width="3" height="5" fill="#fff"/>
<rect x="380" y="469" width="1" height="16" fill="#000"/>
<rect x="378" y="469" width="5" height="11" fill="#000"/>
<rect x="386" y="476" width="1" height="7" fill="#000"/>
<rect x="384" y="477" width="5" height="2" fill="#000"/>
<rect x="391" y="481" width="1" height="3" fill="#000"/>
<rect x="389" y="483" width="5" height="1" fill="#000"/>
<rect x="395" y="487" width="5" height="4" fill="#000"/>
<rect x="396" y="488" width="3" height="2" fill="#fff"/>
<rect x="403" y="495" width="1" height="10" fill="#000"/>
<rect x="401" y="503" width="5" height="2" fill="#000"/>
<rect x="408" y="493" width="1" height="9" fill="#000"/>
<rect x="406" y="495" width="5" height="2" fill="#000"/>
<rect x="414" y="496" width="1" height="7" fill="#000"/>
<rect x="412" y="498" width="5" height="1" fill="#000"/>
<rect x="419" y="506" width="1" height="8" fill="#000"/>
<rect x="417" y="508" width="5" height="4" fill="#000"/>
<rect x="425" y="504" width="1" height="18" fill="#000"/>
<rect x="423" y="506" width="5" height="8" fill="#000"/>
<rect x="431" y="523" width="1" height="9" fill="#000"/>
<rect x="429" y="527" width="5" height="5" fill="#000"/>
<rect x="436" y="527" width="1" height="13" fill="#000"/>
<rect x="434" y="533" width="5" height="1" fill="#000"/>
<rect x="442" y="540" width="1" height="8" fill="#000"/>
<rect x="440" y="541" width="5" height="4" fill="#000"/>
<rect x="447" y="535" width="1" height="12" fill="#000"/>
<rect x="445" y="535" width="5" height="10" fill="#000"/>
<rect x="446" y="536" width="3" height="8" fill="#fff"/>
<rect x="453" y="526" width="1" height="8" fill="#000"/>
<rect x="451" y="531" width="5" height="3" fill="#000"/>
<rect x="459" y="531" width="1" height="7" fill="#000"/>
<rect x="457" y="531" width="5" height="3" fill="#000"/>
<rect x="462" y="521" width="5" height="6" fill="#000"/>
<rect x="463" y="522" width="3" height="4" fill="#fff"/>
<rect x="470" y="512" width="1" height="8" fill="#000"/>
<rect x="468" y="514" width="5" height="1" fill="#000"/>
<rect x="476" y="512" width="1" height="7" fill="#000"/>
<rect x="474" y="514" width="5" height="3" fill="#000"/>
<rect x="481" y="519" width="1" height="4" fill="#000"/>
<rect x="479" y="520" width="5" height="2" fill="#000"/>
<rect x="487" y="519" width="1" height="5" fill="#000"/>
<rect x="485" y="520" width="5" height="1" fill="#000"/>
<rect x="492" y="516" width="1" height="7" fill="#000"/>
<rect x="490" y="518" width="5" height="5" fill="#000"/>
<rect x="491" y="519" width="3" height="3" fill="#fff"/>
<rect x="496" y="521" width="5" height="4" fill="#000"/>
<rect x="504" y="523" width="1" height="8" fill="#000"/>
<rect x="502" y="525" width="5" height="5" fill="#000"/>
<rect x="509" y="519" width="1" height="9" fill="#000"/>
<rect x="507" y="520" width="5" height="6" fill="#000"/>
<rect x="515" y="519" width="1" height="3" fill="#000"/>
<rect x="513" y="519" width="5" height="2" fill="#000"/>
<rect x="520" y="512" width="1" height="4" fill="#000"/>
<rect x="518" y="514" width="5" height="1" fill="#000"/>
<rect x="526" y="512" width="1" height="4" fill="#000"/>
<rect x="524" y="513" width="5" height="1" fill="#000"/>
<rect x="530" y="510" width="5" height="2" fill="#000"/>
<rect x="535" y="496" width="5" height="12" fill="#000"/>
<rect x="536" y="497" width="3" height="10" fill="#fff"/>
<rect x="543" y="481" width="1" height="8" fill="#000"/>
<rect x="541" y="486" width="5" height="3" fill="#000"/>
<rect x="542" y="487" width="3" height="1" fill="#fff"/>
<rect x="548" y="478" width="1" height="8" fill="#000"/>
<rect x="546" y="480" width="5" height="2" fill="#000"/>
<rect x="554" y="478" width="1" height="8" fill="#000"/>
<rect x="552" y="480" width="5" height="6" fill="#000"/>
<rect x="553" y="481" width="3" height="4" fill="#fff"/>
<rect x="560" y="475" width="1" height="4" fill="#000"/>
<rect x="558" y="475" width="5" height="3" fill="#000"/>
<rect x="565" y="477" width="1" height="8" fill="#000"/>
<rect x="563" y="480" width="5" height="4" fill="#000"/>
<rect x="564" y="481" width="3" height="2" fill="#fff"/>
<rect x="571" y="478" width="1" height="14" fill="#000"/>
<rect x="569" y="482" width="5" height="8" fill="#000"/>
<rect x="577" y="482" width="1" height="8" fill="#000"/>
<rect x="575" y="482" width="5" height="6" fill="#000"/>
<rect x="576" y="483" width="3" height="4" fill="#fff"/>
<rect x="582" y="482" width="1" height="5" fill="#000"/>
<rect x="580" y="483" width="5" height="4" fill="#000"/>
<rect x="588" y="483" width="1" height="5" fill="#000"/>
<rect x="586" y="483" width="5" height="4" fill="#000"/>
<rect x="587" y="484" width="3" height="2" fill="#fff"/>
<rect x="591" y="471" width="5" height="11" fill="#000"/>
<rect x="592" y="472" width="3" height="9" fill="#fff"/>
<rect x="599" y="469" width="1" height="9" fill="#000"/>
<rect x="597" y="471" width="5" height="5" fill="#000"/>
<rect x="603" y="470" width="5" height="3" fill="#000"/>
<rect x="604" y="471" width="3" height="1" fill="#fff"/>
<rect x="610" y="458" width="1" height="19" fill="#000"/>
<rect x="608" y="461" width="5" height="12" fill="#000"/>
<rect x="616" y="475" width="1" height="16" fill="#000"/>
<rect x="614" y="478" width="5" height="9" fill="#000"/>
<rect x="619" y="477" width="5" height="11" fill="#000"/>
<rect x="620" y="478" width="3" height="9" fill="#fff"/>
<rect x="627" y="471" width="1" height="6" fill="#000"/>
<rect x="625" y="472" width="5" height="4" fill="#000"/>
<rect x="633" y="473" width="1" height="3" fill="#000"/>
<rect x="631" y="473" width="5" height="2" fill="#000"/>
<rect x="638" y="472" width="1" height="3" fill="#000"/>
<rect x="636" y="474" width="5" height="1" fill="#000"/>
<rect x="642" y="467" width="5" height="6" fill="#000"/>
<rect x="643" y="468" width="3" height="4" fill="#fff"/>
<rect x="647" y="468" width="5" height="5" fill="#000"/>
<rect x="648" y="469" width="3" height="3" fill="#fff"/>
<rect x="655" y="463" width="1" height="6" fill="#000"/>
<rect x="653" y="466" width="5" height="3" fill="#000"/>
<rect x="661" y="466" width="1" height="11" fill="#000"/>
<rect x="659" y="467" width="5" height="4" fill="#000"/>
<rect x="666" y="470" width="1" height="7" fill="#000"/>
<rect x="664" y="470" width="5" height="6" fill="#000"/>
<rect x="665" y="471" width="3" height="4" fill="#fff"/>
<rect x="670" y="470" width="5" height="3" fill="#000"/>
<rect x="671" y="471" width="3" height="1" fill="#fff"/>
<rect x="678" y="464" width="1" height="6" fill="#000"/>
<rect x="676" y="466" width="5" height="1" fill="#000"/>
<rect x="683" y="467" width="1" height="2" fill="#000"/>
<rect x="681" y="468" width="5" height="1" fill="#000"/>
<rect x="687" y="466" width="5" height="1" fill="#000"/>
<rect x="694" y="466" width="1" height="5" fill="#000"/>
<rect x="692" y="466" width="5" height="3" fill="#000"/>
<rect x="693" y="467" width="3" height="1" fill="#fff"/>
<rect x="700" y="465" width="1" height="3" fill="#000"/>
<rect x="698" y="466" width="5" height="1" fill="#000"/>
<rect x="706" y="464" width="1" height="4" fill="#000"/>
<rect x="704" y="464" width="5" height="3" fill="#000"/>
<rect x="711" y="466" width="1" height="7" fill="#000"/>
<rect x="709" y="466" width="5" height="1" fill="#000"/>
<rect x="717" y="466" width="1" height="4" fill="#000"/>
<rect x="715" y="468" width="5" height="1" fill="#000"/>
<rect x="720" y="464" width="5" height="6" fill="#000"/>
<rect x="721" y="465" width="3" height="4" fill="#fff"/>
<rect x="726" y="453" width="5" height="8" fill="#000"/>
<rect x="727" y="454" width="3" height="6" fill="#fff"/>
<rect x="734" y="452" width="1" height="5" fill="#000"/>
<rect x="732" y="454" width="5" height="2" fill="#000"/>
<rect x="739" y="453" width="1" height="3" fill="#000"/>
<rect x="737" y="455" width="5" height="1" fill="#000"/>
<rect x="745" y="454" width="1" height="5" fill="#000"/>
<rect x="743" y="455" width="5" height="4" fill="#000"/>
<rect x="750" y="456" width="1" height="3" fill="#000"/>
<rect x="748" y="456" width="5" height="2" fill="#000"/>
<rect x="754" y="444" width="5" height="7" fill="#000"/>
<rect x="755" y="445" width="3" height="5" fill="#fff"/>
<rect x="762" y="445" width="1" height="4" fill="#000"/>
<rect x="760" y="446" width="5" height="1" fill="#000"/>
<rect x="767" y="431" width="1" height="8" fill="#000"/>
<rect x="765" y="431" width="5" height="7" fill="#000"/>
<rect x="766" y="432" width="3" height="5" fill="#fff"/>
<rect x="773" y="432" width="1" height="9" fill="#000"/>
<rect x="771" y="437" width="5" height="4" fill="#000"/>
<rect x="778" y="438" width="1" height="13" fill="#000"/>
<rect x="776" y="439" width="5" height="7" fill="#000"/>
<rect x="782" y="437" width="5" height="14" fill="#000"/>
<rect x="783" y="438" width="3" height="12" fill="#fff"/>
<rect x="790" y="434" width="1" height="7" fill="#000"/>
<rect x="788" y="434" width="5" height="5" fill="#000"/>
<rect x="793" y="436" width="5" height="3" fill="#000"/>
<rect x="801" y="434" width="1" height="3" fill="#000"/>
<rect x="799" y="435" width="5" height="1" fill="#000"/>
<rect x="807" y="433" width="1" height="4" fill="#000"/>
<rect x="805" y="434" width="5" height="3" fill="#000"/>
<rect x="812" y="435" width="1" height="2" fill="#000"/>
<rect x="810" y="436" width="5" height="1" fill="#000"/>
<rect x="816" y="435" width="5" height="2" fill="#000"/>
<rect x="823" y="436" width="1" height="8" fill="#000"/>
<rect x="821" y="437" width="5" height="6" fill="#000"/>
<rect x="829" y="438" width="1" height="8" fill="#000"/>
<rect x="827" y="438" width="5" height="7" fill="#000"/>
<rect x="828" y="439" width="3" height="5" fill="#fff"/>
<rect x="835" y="437" width="1" height="7" fill="#000"/>
<rect x="833" y="437" width="5" height="6" fill="#000"/>
<rect x="840" y="434" width="1" height="11" fill="#000"/>
<rect x="838" y="434" width="5" height="8" fill="#000"/>
<rect x="839" y="435" width="3" height="6" fill="#fff"/>
<rect x="844" y="422" width="5" height="14" fill="#000"/>
<rect x="845" y="423" width="3" height="12" fill="#fff"/>
<rect x="851" y="413" width="1" height="9" fill="#000"/>
<rect x="849" y="415" width="5" height="7" fill="#000"/>
<rect x="850" y="416" width="3" height="5" fill="#fff"/>
<rect x="857" y="396" width="1" height="8" fill="#000"/>
<rect x="855" y="398" width="5" height="2" fill="#000"/>
<rect x="861" y="372" width="5" height="18" fill="#000"/>
<rect x="862" y="373" width="3" height="16" fill="#fff"/>
<rect x="868" y="362" width="1" height="16" fill="#000"/>
<rect x="866" y="366" width="5" height="2" fill="#000"/>
<rect x="874" y="364" width="1" height="18" fill="#000"/>
<rect x="872" y="366" width="5" height="7" fill="#000"/>
<rect x="879" y="365" width="1" height="10" fill="#000"/>
<rect x="877" y="367" width="5" height="1" fill="#000"/>
<rect x="885" y="342" width="1" height="29" fill="#000"/>
<rect x="883" y="342" width="5" height="26" fill="#000"/>
<rect x="884" y="343" width="3" height="24" fill="#fff"/>
<rect x="891" y="298" width="1" height="56" fill="#000"/>
<rect x="889" y="322" width="5" height="28" fill="#000"/>
<rect x="896" y="334" width="1" height="27" fill="#000"/>
<rect x="894" y="340" width="5" height="6" fill="#000"/>
<rect x="902" y="341" width="1" height="16" fill="#000"/>
<rect x="900" y="341" width="5" height="2" fill="#000"/>
<rect x="908" y="345" width="1" height="10" fill="#000"/>
<rect x="906" y="349" width="5" height="5" fill="#000"/>
<rect x="907" y="350" width="3" height="3" fill="#fff"/>
<rect x="913" y="343" width="1" height="8" fill="#000"/>
<rect x="911" y="347" width="5" height="2" fill="#000"/>
<rect x="919" y="325" width="1" height="26" fill="#000"/>
<rect x="917" y="325" width="5" height="22" fill="#000"/>
<rect x="918" y="326" width="3" height="20" fill="#fff"/>
<rect x="924" y="319" width="1" height="20" fill="#000"/>
<rect x="922" y="325" width="5" height="13" fill="#000"/>
<rect x="930" y="328" width="1" height="11" fill="#000"/>
<rect x="928" y="332" width="5" height="1" fill="#000"/>
<rect x="936" y="317" width="1" height="36" fill="#000"/>
<rect x="934" y="318" width="5" height="28" fill="#000"/>
<rect x="941" y="356" width="1" height="16" fill="#000"/>
<rect x="939" y="364" width="5" height="1" fill="#000"/>
<rect x="947" y="343" width="1" height="21" fill="#000"/>
<rect x="945" y="343" width="5" height="20" fill="#000"/>
<rect x="946" y="344" width="3" height="18" fill="#fff"/>
<rect x="952" y="338" width="1" height="16" fill="#000"/>
<rect x="950" y="349" width="5" height="5" fill="#000"/>
<rect x="958" y="343" width="1" height="9" fill="#000"/>
<rect x="956" y="349" width="5" height="1" fill="#000"/>
<rect x="964" y="348" width="1" height="6" fill="#000"/>
<rect x="962" y="351" width="5" height="1" fill="#000"/>
<rect x="969" y="346" width="1" height="17" fill="#000"/>
<rect x="967" y="347" width="5" height="14" fill="#000"/>
<rect x="973" y="352" width="5" height="7" fill="#000"/>
<rect x="974" y="353" width="3" height="5" fill="#fff"/>
<rect x="980" y="345" width="1" height="11" fill="#000"/>
<rect x="978" y="350" width="5" height="2" fill="#000"/>
<rect x="986" y="349" width="1" height="6" fill="#000"/>
<rect x="984" y="351" width="5" height="1" fill="#000"/>
<rect x="992" y="346" width="1" height="7" fill="#000"/>
<rect x="990" y="350" width="5" height="1" fill="#000"/>
<rect x="997" y="349" width="1" height="15" fill="#000"/>
<rect x="995" y="349" width="5" height="8" fill="#000"/>
<rect x="1003" y="358" width="1" height="11" fill="#000"/>
<rect x="1001" y="358" width="5" height="4" fill="#000"/>
<rect x="1009" y="364" width="1" height="9" fill="#000"/>
<rect x="1007" y="367" width="5" height="4" fill="#000"/>
<rect x="1014" y="336" width="1" height="25" fill="#000"/>
<rect x="1012" y="340" width="5" height="16" fill="#000"/>
<rect x="1013" y="341" width="3" height="14" fill="#fff"/>
<rect x="1020" y="324" width="1" height="14" fill="#000"/>
<rect x="1018" y="328" width="5" height="3" fill="#000"/>
<rect x="1019" y="329" width="3" height="1" fill="#fff"/>
<rect x="1025" y="320" width="1" height="8" fill="#000"/>
<rect x="1023" y="321" width="5" height="2" fill="#000"/>
<rect x="1029" y="291" width="5" height="30" fill="#000"/>
<rect x="1030" y="292" width="3" height="28" fill="#fff"/>
<rect x="1037" y="276" width="1" height="14" fill="#000"/>
<rect x="1035" y="280" width="5" height="3" fill="#000"/>
<rect x="1042" y="280" width="1" height="10" fill="#000"/>
<rect x="1040" y="284" width="5" height="3" fill="#000"/>
<rect x="1041" y="285" width="3" height="1" fill="#fff"/>
<rect x="1048" y="260" width="1" height="28" fill="#000"/>
<rect x="1046" y="263" width="5" height="25" fill="#000"/>
<rect x="1047" y="264" width="3" height="23" fill="#fff"/>
<rect x="1053" y="248" width="1" height="11" fill="#000"/>
<rect x="1051" y="254" width="5" height="2" fill="#000"/>
<rect x="1059" y="241" width="1" height="35" fill="#000"/>
<rect x="1057" y="241" width="5" height="20" fill="#000"/>
<rect x="1063" y="259" width="5" height="10" fill="#000"/>
<rect x="1064" y="260" width="3" height="8" fill="#fff"/>
<rect x="1070" y="235" width="1" height="19" fill="#000"/>
<rect x="1068" y="237" width="5" height="17" fill="#000"/>
<rect x="1069" y="238" width="3" height="15" fill="#fff"/>
<rect x="1076" y="213" width="1" height="25" fill="#000"/>
<rect x="1074" y="222" width="5" height="11" fill="#000"/>
<rect x="1075" y="223" width="3" height="9" fill="#fff"/>
<rect x="1081" y="208" width="1" height="23" fill="#000"/>
<rect x="1079" y="212" width="5" height="14" fill="#000"/>
<rect x="1087" y="178" width="1" height="50" fill="#000"/>
<rect x="1085" y="178" width="5" height="47" fill="#000"/>
<rect x="1086" y="179" width="3" height="45" fill="#fff"/>
<rect x="1093" y="175" width="1" height="27" fill="#000"/>
<rect x="1091" y="175" width="5" height="23" fill="#000"/>
<rect x="1098" y="195" width="1" height="64" fill="#000"/>
<rect x="1096" y="195" width="5" height="27" fill="#000"/>
<rect x="1104" y="236" width="1" height="25" fill="#000"/>
<rect x="1102" y="257" width="5" height="2" fill="#000"/>
<rect x="1110" y="240" width="1" height="47" fill="#000"/>
<rect x="1108" y="247" width="5" height="15" fill="#000"/>
<rect x="1109" y="248" width="3" height="13" fill="#fff"/>
<rect x="1115" y="290" width="1" height="34" fill="#000"/>
<rect x="1113" y="301" width="5" height="22" fill="#000"/>
<rect x="1121" y="291" width="1" height="23" fill="#000"/>
<rect x="1119" y="292" width="5" height="10" fill="#000"/>
<rect x="1120" y="293" width="3" height="8" fill="#fff"/>
<rect x="1126" y="264" width="1" height="33" fill="#000"/>
<rect x="1124" y="275" width="5" height="12" fill="#000"/>
<rect x="1132" y="278" width="1" height="19" fill="#000"/>
<rect x="1130" y="279" width="5" height="7" fill="#000"/>
<rect x="1138" y="246" width="1" height="40" fill="#000"/>
<rect x="1136" y="246" width="5" height="34" fill="#000"/>
<rect x="1137" y="247" width="3" height="32" fill="#fff"/>
<rect x="1143" y="211" width="1" height="26" fill="#000"/>
<rect x="1141" y="220" width="5" height="12" fill="#000"/>
<rect x="1142" y="221" width="3" height="10" fill="#fff"/>
<rect x="1149" y="214" width="1" height="19" fill="#000"/>
<rect x="1147" y="227" width="5" height="3" fill="#000"/>
<rect x="1148" y="228" width="3" height="1" fill="#fff"/>
<rect x="1154" y="231" width="1" height="25" fill="#000"/>
<rect x="1152" y="243" width="5" height="8" fill="#000"/>
<rect x="1153" y="244" width="3" height="6" fill="#fff"/>
<rect x="1160" y="219" width="1" height="19" fill="#000"/>
<rect x="1158" y="222" width="5" height="5" fill="#000"/>
<rect x="1166" y="215" width="1" height="42" fill="#000"/>
<rect x="1164" y="217" width="5" height="3" fill="#000"/>
<rect x="1171" y="230" width="1" height="18" fill="#000"/>
<rect x="1169" y="237" width="5" height="5" fill="#000"/>
<rect x="1177" y="253" width="1" height="31" fill="#000"/>
<rect x="1175" y="259" width="5" height="20" fill="#000"/>
<rect x="1182" y="264" width="1" height="41" fill="#000"/>
<rect x="1180" y="274" width="5" height="21" fill="#000"/>
<rect x="1181" y="275" width="3" height="19" fill="#fff"/>
<rect x="1186" y="257" width="5" height="14" fill="#000"/>
<rect x="1187" y="258" width="3" height="12" fill="#fff"/>
<rect x="1194" y="239" width="1" height="11" fill="#000"/>
<rect x="1192" y="242" width="5" height="3" fill="#000"/>
<rect x="1199" y="239" width="1" height="14" fill="#000"/>
<rect x="1197" y="247" width="5" height="3" fill="#000"/>
<rect x="1198" y="248" width="3" height="1" fill="#fff"/>
<rect x="1205" y="235" width="1" height="11" fill="#000"/>
<rect x="1203" y="238" width="5" height="8" fill="#000"/>
<rect x="1204" y="239" width="3" height="6" fill="#fff"/>
<rect x="1210" y="221" width="1" height="12" fill="#000"/>
<rect x="1208" y="221" width="5" height="8" fill="#000"/>
<rect x="1209" y="222" width="3" height="6" fill="#fff"/>
<rect x="1216" y="230" width="1" height="20" fill="#000"/>
<rect x="1214" y="246" width="5" height="4" fill="#000"/>
<rect x="1222" y="235" width="1" height="11" fill="#000"/>
<rect x="1220" y="241" width="5" height="3" fill="#000"/>
<rect x="1221" y="242" width="3" height="1" fill="#fff"/>
<rect x="1227" y="238" width="1" height="20" fill="#000"/>
<rect x="1225" y="243" width="5" height="8" fill="#000"/>
<rect x="1233" y="238" width="1" height="13" fill="#000"/>
<rect x="1231" y="241" width="5" height="7" fill="#000"/>
<rect x="1232" y="242" width="3" height="5" fill="#fff"/>
<rect x="1239" y="229" width="1" height="12" fill="#000"/>
<rect x="1237" y="230" width="5" height="11" fill="#000"/>
<rect x="1244" y="234" width="1" height="6" fill="#000"/>
<rect x="1242" y="234" width="5" height="4" fill="#000"/>
<rect x="1243" y="235" width="3" height="2" fill="#fff"/>
<rect x="1250" y="222" width="1" height="8" fill="#000"/>
<rect x="1248" y="226" width="5" height="2" fill="#000"/>
<rect x="1255" y="222" width="1" height="9" fill="#000"/>
<rect x="1253" y="223" width="5" height="5" fill="#000"/>
<rect x="1254" y="224" width="3" height="3" fill="#fff"/>
<rect x="1261" y="207" width="1" height="15" fill="#000"/>
<rect x="1259" y="210" width="5" height="12" fill="#000"/>
<rect x="1260" y="211" width="3" height="10" fill="#fff"/>
<rect x="1267" y="214" width="1" height="12" fill="#000"/>
<rect x="1265" y="220" width="5" height="1" fill="#000"/>
<rect x="1272" y="215" width="1" height="14" fill="#000"/>
<rect x="1270" y="216" width="5" height="13" fill="#000"/>
<rect x="1278" y="222" width="1" height="16" fill="#000"/>
<rect x="1276" y="223" width="5" height="13" fill="#000"/>
<rect x="1283" y="236" width="1" height="11" fill="#000"/>
<rect x="1281" y="236" width="5" height="8" fill="#000"/>
<rect x="1289" y="236" width="1" height="9" fill="#000"/>
<rect x="1287" y="243" width="5" height="2" fill="#000"/>
<rect x="1295" y="224" width="1" height="18" fill="#000"/>
<rect x="1293" y="227" width="5" height="14" fill="#000"/>
<rect x="1300" y="244" width="1" height="13" fill="#000"/>
<rect x="1298" y="244" width="5" height="1" fill="#000"/>
<rect x="1306" y="242" width="1" height="12" fill="#000"/>
<rect x="1304" y="246" width="5" height="8" fill="#000"/>
<rect x="1305" y="247" width="3" height="6" fill="#fff"/>
<rect x="1311" y="238" width="1" height="8" fill="#000"/>
<rect x="1309" y="242" width="5" height="2" fill="#000"/>
<rect x="1317" y="247" width="1" height="10" fill="#000"/>
<rect x="1315" y="249" width="5" height="8" fill="#000"/>
<rect x="1323" y="248" width="1" height="8" fill="#000"/>
<rect x="1321" y="254" width="5" height="1" fill="#000"/>
<rect x="1328" y="256" width="1" height="25" fill="#000"/>
<rect x="1326" y="257" width="5" height="16" fill="#000"/>
<rect x="1334" y="258" width="1" height="12" fill="#000"/>
<rect x="1332" y="263" width="5" height="7" fill="#000"/>
<rect x="1333" y="264" width="3" height="5" fill="#fff"/>
<rect x="1340" y="240" width="1" height="17" fill="#000"/>
<rect x="1338" y="242" width="5" height="14" fill="#000"/>
<rect x="1339" y="243" width="3" height="12" fill="#fff"/>
<rect x="1345" y="233" width="1" height="15" fill="#000"/>
<rect x="1343" y="237" width="5" height="8" fill="#000"/>
<rect x="1351" y="229" width="1" height="13" fill="#000"/>
<rect x="1349" y="230" width="5" height="10" fill="#000"/>
<rect x="1350" y="231" width="3" height="8" fill="#fff"/>
<rect x="1356" y="231" width="1" height="11" fill="#000"/>
<rect x="1354" y="232" width="5" height="5" fill="#000"/>
<rect x="1362" y="218" width="1" height="27" fill="#000"/>
<rect x="1360" y="229" width="5" height="16" fill="#000"/>
<rect x="1368" y="246" width="1" height="20" fill="#000"/>
<rect x="1366" y="246" width="5" height="8" fill="#000"/>
<rect x="1373" y="248" width="1" height="6" fill="#000"/>
<rect x="1371" y="248" width="5" height="2" fill="#000"/>
<rect x="1379" y="243" width="1" height="12" fill="#000"/>
<rect x="1377" y="250" width="5" height="3" fill="#000"/>
<rect x="1384" y="253" width="1" height="9" fill="#000"/>
<rect x="1382" y="254" width="5" height="1" fill="#000"/>
<rect x="1390" y="253" width="1" height="6" fill="#000"/>
<rect x="1388" y="255" width="5" height="1" fill="#000"/>
<rect x="1396" y="209" width="1" height="26" fill="#000"/>
<rect x="1394" y="211" width="5" height="15" fill="#000"/>
<rect x="1401" y="181" width="1" height="44" fill="#000"/>
<rect x="1399" y="188" width="5" height="34" fill="#000"/>
<rect x="1400" y="189" width="3" height="32" fill="#fff"/>
<rect x="1407" y="170" width="1" height="17" fill="#000"/>
<rect x="1405" y="177" width="5" height="8" fill="#000"/>
<rect x="1406" y="178" width="3" height="6" fill="#fff"/>
<rect x="1412" y="174" width="1" height="12" fill="#000"/>
<rect x="1410" y="178" width="5" height="8" fill="#000"/>
<rect x="1418" y="155" width="1" height="20" fill="#000"/>
<rect x="1416" y="158" width="5" height="17" fill="#000"/>
<rect x="1417" y="159" width="3" height="15" fill="#fff"/>
<rect x="1424" y="126" width="1" height="28" fill="#000"/>
<rect x="1422" y="129" width="5" height="14" fill="#000"/>
<rect x="1423" y="130" width="3" height="12" fill="#fff"/>
<rect x="1429" y="113" width="1" height="23" fill="#000"/>
<rect x="1427" y="113" width="5" height="21" fill="#000"/>
<rect x="1428" y="114" width="3" height="19" fill="#fff"/>
<rect x="1435" y="92" width="1" height="17" fill="#000"/>
<rect x="1433" y="103" width="5" height="5" fill="#000"/>
<rect x="1434" y="104" width="3" height="3" fill="#fff"/>
<rect x="1441" y="84" width="1" height="46" fill="#000"/>
<rect x="1439" y="88" width="5" height="31" fill="#000"/>
<rect x="1446" y="92" width="1" height="22" fill="#000"/>
<rect x="1444" y="92" width="5" height="10" fill="#000"/>
<rect x="1452" y="116" width="1" height="25" fill="#000"/>
<rect x="1450" y="117" width="5" height="12" fill="#000"/>
<rect x="1451" y="118" width="3" height="10" fill="#fff"/>
<rect x="1457" y="93" width="1" height="12" fill="#000"/>
<rect x="1455" y="96" width="5" height="4" fill="#000"/>
<rect x="1456" y="97" width="3" height="2" fill="#fff"/>
<rect x="1463" y="91" width="1" height="12" fill="#000"/>
<rect x="1461" y="91" width="5" height="8" fill="#000"/>
<rect x="1462" y="92" width="3" height="6" fill="#fff"/>
<rect x="1469" y="49" width="1" height="39" fill="#000"/>
<rect x="1467" y="54" width="5" height="34" fill="#000"/>
<rect x="1468" y="55" width="3" height="32" fill="#fff"/>
<rect x="1474" y="47" width="1" height="26" fill="#000"/>
<rect x="1472" y="47" width="5" height="22" fill="#000"/>
<rect x="1473" y="48" width="3" height="20" fill="#fff"/>
</g>
<path d="M49.0,561.0 L82.3,560.2 L114.0,559.2 L148.0,558.0 L177.6,556.4 L200.0,554.9 L231.7,552.5 L265.6,549.3 L295.2,546.0 L327.0,541.9 L358.7,538.2 L400.0,533.9 L425.4,532.6 L450.8,532.4 L476.2,532.4 L501.6,531.9 L527.0,531.1 L552.4,529.2 L577.8,526.9 L603.2,524.8 L640.0,521.7 L678.1,518.3 L716.2,515.2 L754.3,510.7 L792.4,506.2 L830.5,501.7 L855.9,498.2 L880.0,493.0 L905.4,486.6 L930.8,480.0 L956.2,474.6 L972.7,470.8 L994.3,466.8 L1013.3,463.2 L1032.4,457.2 L1057.8,449.4 L1083.2,440.6 L1102.2,433.5 L1120.0,428.5 L1145.4,417.5 L1170.8,411.0 L1189.8,407.2 L1208.9,400.7 L1234.3,394.3 L1259.7,387.2 L1278.7,382.4 L1297.8,377.0 L1323.2,372.0 L1342.2,367.6 L1357.4,363.5 L1374.8,360.0 L1392.2,357.0 L1409.6,351.5 L1427.0,344.6 L1444.3,337.6 L1461.7,330.7 L1475.0,325.6" fill="none" stroke="#ff0000" stroke-width="4.2" stroke-linejoin="round" shape-rendering="crispEdges"/>
<line x1="262" y1="437.4" x2="866.4" y2="437.4" stroke="#0000ff" stroke-opacity="0.4" stroke-width="6"/>
<line x1="445.5" y1="553.4" x2="1760.5" y2="139.9" stroke="#1e9628" stroke-opacity="0.52" stroke-width="6.4"/>
<line x1="868" y1="287" x2="1024" y2="362" stroke="#ff00ff" stroke-opacity="0.42" stroke-width="6.9"/>
<line x1="897" y1="377.5" x2="1033" y2="375.5" stroke="#ff00ff" stroke-opacity="0.42" stroke-width="6.9"/>
<line x1="1052" y1="167" x2="1446" y2="235.5" stroke="#ff00ff" stroke-opacity="0.42" stroke-width="6.9"/>
<line x1="1096.2" y1="332.2" x2="1445.5" y2="238.9" stroke="#ff00ff" stroke-opacity="0.42" stroke-width="6.9"/>
<line x1="1413" y1="87.5" x2="1508" y2="87.5" stroke="#6e6e6e" stroke-opacity="0.75" stroke-width="3.6"/>
<rect x="1482" y="45" width="9.6" height="275.7" fill="#808080" fill-opacity="0.36"/>
<ellipse cx="842.2" cy="438.7" rx="13.8" ry="13.8" fill="none" stroke="#50f050" stroke-opacity="0.62" stroke-width="4.5"/>
<ellipse cx="1013" cy="354.3" rx="13" ry="17.5" fill="none" stroke="#50f050" stroke-opacity="0.62" stroke-width="4.5"/>
<ellipse cx="1394.7" cy="219" rx="13.2" ry="17.6" fill="none" stroke="#50f050" stroke-opacity="0.62" stroke-width="4.5"/>
<ellipse cx="1465.8" cy="89" rx="10.2" ry="14.8" fill="none" stroke="#50f050" stroke-opacity="0.62" stroke-width="4.5" transform="rotate(8 1465.8 89)"/>
<text x="1490" y="344" font-size="15.5" font-weight="bold" fill="#111" textLength="264" lengthAdjust="spacingAndGlyphs">gran desviación sobre la EMA 200</text>
<text x="1280" y="534" font-size="15.7" fill="#000" stroke="#000" stroke-width="0.25" textLength="286" lengthAdjust="spacingAndGlyphs">WWW.INVERTIRYESPECULAR.COM</text>
<rect x="0" y="547" width="49" height="17" fill="#4a90e2"/>
<text x="-3.6" y="559.4" font-size="11.5" fill="#1a1a1a">a</text>
<text x="6" y="559.4" font-size="11.5" fill="#1a1a1a" textLength="40.7" lengthAdjust="spacingAndGlyphs">órdenes</text>
<rect x="1813" y="17" width="1.2" height="569" fill="#3a3a3a"/>
<rect x="1813" y="601" width="1.2" height="181" fill="#3a3a3a"/>
<rect x="1813" y="17" width="73" height="1" fill="#3a3a3a"/>
<rect x="1813" y="601" width="73" height="1" fill="#3a3a3a"/>
<g shape-rendering="crispEdges">
<line x1="1814" y1="32.5" x2="1817.6" y2="32.5" stroke="#3a3a3a" stroke-width="1"/>
<line x1="1814" y1="46.5" x2="1817.6" y2="46.5" stroke="#3a3a3a" stroke-width="1"/>
<line x1="1814" y1="60.5" x2="1817.6" y2="60.5" stroke="#3a3a3a" stroke-width="1"/>
<line x1="1814" y1="74.5" x2="1817.6" y2="74.5" stroke="#3a3a3a" stroke-width="1"/>
<line x1="1814" y1="90.5" x2="1820.5" y2="90.5" stroke="#3a3a3a" stroke-width="1"/>
<line x1="1814" y1="104.5" x2="1817.6" y2="104.5" stroke="#3a3a3a" stroke-width="1"/>
<line x1="1814" y1="118.5" x2="1817.6" y2="118.5" stroke="#3a3a3a" stroke-width="1"/>
<line x1="1814" y1="132.5" x2="1817.6" y2="132.5" stroke="#3a3a3a" stroke-width="1"/>
<line x1="1814" y1="146.5" x2="1817.6" y2="146.5" stroke="#3a3a3a" stroke-width="1"/>
<line x1="1814" y1="160.5" x2="1817.6" y2="160.5" stroke="#3a3a3a" stroke-width="1"/>
<line x1="1814" y1="177.5" x2="1820.5" y2="177.5" stroke="#3a3a3a" stroke-width="1"/>
<line x1="1814" y1="191.5" x2="1817.6" y2="191.5" stroke="#3a3a3a" stroke-width="1"/>
<line x1="1814" y1="205.5" x2="1817.6" y2="205.5" stroke="#3a3a3a" stroke-width="1"/>
<line x1="1814" y1="219.5" x2="1817.6" y2="219.5" stroke="#3a3a3a" stroke-width="1"/>
<line x1="1814" y1="233.5" x2="1817.6" y2="233.5" stroke="#3a3a3a" stroke-width="1"/>
<line x1="1814" y1="247.5" x2="1817.6" y2="247.5" stroke="#3a3a3a" stroke-width="1"/>
<line x1="1814" y1="263.5" x2="1820.5" y2="263.5" stroke="#3a3a3a" stroke-width="1"/>
<line x1="1814" y1="277.5" x2="1817.6" y2="277.5" stroke="#3a3a3a" stroke-width="1"/>
<line x1="1814" y1="291.5" x2="1817.6" y2="291.5" stroke="#3a3a3a" stroke-width="1"/>
<line x1="1814" y1="305.5" x2="1817.6" y2="305.5" stroke="#3a3a3a" stroke-width="1"/>
<line x1="1814" y1="319.5" x2="1817.6" y2="319.5" stroke="#3a3a3a" stroke-width="1"/>
<line x1="1814" y1="333.5" x2="1817.6" y2="333.5" stroke="#3a3a3a" stroke-width="1"/>
<line x1="1814" y1="349.5" x2="1820.5" y2="349.5" stroke="#3a3a3a" stroke-width="1"/>
<line x1="1814" y1="363.5" x2="1817.6" y2="363.5" stroke="#3a3a3a" stroke-width="1"/>
<line x1="1814" y1="377.5" x2="1817.6" y2="377.5" stroke="#3a3a3a" stroke-width="1"/>
<line x1="1814" y1="391.5" x2="1817.6" y2="391.5" stroke="#3a3a3a" stroke-width="1"/>
<line x1="1814" y1="405.5" x2="1817.6" y2="405.5" stroke="#3a3a3a" stroke-width="1"/>
<line x1="1814" y1="419.5" x2="1817.6" y2="419.5" stroke="#3a3a3a" stroke-width="1"/>
<line x1="1814" y1="436.5" x2="1820.5" y2="436.5" stroke="#3a3a3a" stroke-width="1"/>
<line x1="1814" y1="450.5" x2="1817.6" y2="450.5" stroke="#3a3a3a" stroke-width="1"/>
<line x1="1814" y1="464.5" x2="1817.6" y2="464.5" stroke="#3a3a3a" stroke-width="1"/>
<line x1="1814" y1="478.5" x2="1817.6" y2="478.5" stroke="#3a3a3a" stroke-width="1"/>
<line x1="1814" y1="492.5" x2="1817.6" y2="492.5" stroke="#3a3a3a" stroke-width="1"/>
<line x1="1814" y1="506.5" x2="1817.6" y2="506.5" stroke="#3a3a3a" stroke-width="1"/>
<line x1="1814" y1="522.5" x2="1820.5" y2="522.5" stroke="#3a3a3a" stroke-width="1"/>
<line x1="1814" y1="536.5" x2="1817.6" y2="536.5" stroke="#3a3a3a" stroke-width="1"/>
<line x1="1814" y1="550.5" x2="1817.6" y2="550.5" stroke="#3a3a3a" stroke-width="1"/>
<line x1="1814" y1="564.5" x2="1817.6" y2="564.5" stroke="#3a3a3a" stroke-width="1"/>
<line x1="1814" y1="578.5" x2="1817.6" y2="578.5" stroke="#3a3a3a" stroke-width="1"/>
</g>
<text x="1824" y="95.5" font-size="13.8" fill="#333" textLength="23.5" lengthAdjust="spacingAndGlyphs">600</text>
<text x="1824" y="181.9" font-size="13.8" fill="#333" textLength="23.5" lengthAdjust="spacingAndGlyphs">500</text>
<text x="1824" y="268.3" font-size="13.8" fill="#333" textLength="23.5" lengthAdjust="spacingAndGlyphs">400</text>
<text x="1824" y="354.7" font-size="13.8" fill="#333" textLength="23.5" lengthAdjust="spacingAndGlyphs">300</text>
<text x="1824" y="441.1" font-size="13.8" fill="#333" textLength="23.5" lengthAdjust="spacingAndGlyphs">200</text>
<text x="1824" y="527.5" font-size="13.8" fill="#333" textLength="23.5" lengthAdjust="spacingAndGlyphs">100</text>
<g shape-rendering="crispEdges">
<line x1="1814" y1="603.5" x2="1817.6" y2="603.5" stroke="#3a3a3a" stroke-width="1"/>
<line x1="1814" y1="614.5" x2="1817.6" y2="614.5" stroke="#3a3a3a" stroke-width="1"/>
<line x1="1814" y1="625.5" x2="1817.6" y2="625.5" stroke="#3a3a3a" stroke-width="1"/>
<line x1="1814" y1="638.5" x2="1820.5" y2="638.5" stroke="#3a3a3a" stroke-width="1"/>
<line x1="1814" y1="649.5" x2="1817.6" y2="649.5" stroke="#3a3a3a" stroke-width="1"/>
<line x1="1814" y1="660.5" x2="1817.6" y2="660.5" stroke="#3a3a3a" stroke-width="1"/>
<line x1="1814" y1="671.5" x2="1817.6" y2="671.5" stroke="#3a3a3a" stroke-width="1"/>
<line x1="1814" y1="684.5" x2="1820.5" y2="684.5" stroke="#3a3a3a" stroke-width="1"/>
<line x1="1814" y1="695.5" x2="1817.6" y2="695.5" stroke="#3a3a3a" stroke-width="1"/>
<line x1="1814" y1="706.5" x2="1817.6" y2="706.5" stroke="#3a3a3a" stroke-width="1"/>
<line x1="1814" y1="717.5" x2="1817.6" y2="717.5" stroke="#3a3a3a" stroke-width="1"/>
<line x1="1814" y1="730.5" x2="1820.5" y2="730.5" stroke="#3a3a3a" stroke-width="1"/>
<line x1="1814" y1="741.5" x2="1817.6" y2="741.5" stroke="#3a3a3a" stroke-width="1"/>
<line x1="1814" y1="752.5" x2="1817.6" y2="752.5" stroke="#3a3a3a" stroke-width="1"/>
<line x1="1814" y1="763.5" x2="1817.6" y2="763.5" stroke="#3a3a3a" stroke-width="1"/>
<line x1="1814" y1="776.5" x2="1820.5" y2="776.5" stroke="#3a3a3a" stroke-width="1"/>
</g>
<text x="1824" y="689.3" font-size="13.8" fill="#333" textLength="15.5" lengthAdjust="spacingAndGlyphs">20</text>
<text x="1824.8" y="780.9" font-size="13.8" fill="#333">-</text>
<text x="1831" y="780.9" font-size="13.8" fill="#333" textLength="14.6" lengthAdjust="spacingAndGlyphs">20</text>
<rect x="1823" y="35.2" width="49" height="24.6" fill="#e85454"/>
<text x="1825.5" y="54.7" font-size="14.4" fill="#fff" textLength="43" lengthAdjust="spacingAndGlyphs">649,88</text>
<path d="M1821.8,47.4 L1814.8,47.4 M1818.2,44.1 L1814.8,47.4 L1818.2,50.699999999999996" fill="none" stroke="#333" stroke-width="1"/>
<rect x="1823" y="313.1" width="63.5" height="24.6" fill="#e85454"/>
<text x="1825.5" y="332.7" font-size="14.4" fill="#fff" textLength="58.5" lengthAdjust="spacingAndGlyphs">327,7935</text>
<path d="M1821.8,325.3 L1814.8,325.3 M1818.2,322.0 L1814.8,325.3 L1818.2,328.6" fill="none" stroke="#333" stroke-width="1"/>
<rect x="1823" y="602.2" width="57" height="20.4" fill="#4a80b8"/>
<text x="1825.5" y="617.6" font-size="14.4" fill="#fff" textLength="51" lengthAdjust="spacingAndGlyphs">52,2317</text>
<path d="M1821.8,610.7 L1814.8,610.7 M1818.2,607.4000000000001 L1814.8,610.7 L1818.2,614.0" fill="none" stroke="#333" stroke-width="1"/>
<rect x="1823" y="625.2" width="57" height="24.6" fill="#4a80b8"/>
<text x="1825.5" y="644.4" font-size="14.4" fill="#fff" textLength="51" lengthAdjust="spacingAndGlyphs">40,7012</text>
<path d="M1821.8,637.7 L1814.8,637.7 M1818.2,634.4000000000001 L1814.8,637.7 L1818.2,641.0" fill="none" stroke="#333" stroke-width="1"/>
<rect x="1823" y="718.1" width="14" height="24.7" fill="#3a3a3a"/>
<text x="1826" y="737.5" font-size="14.4" fill="#fff" textLength="8" lengthAdjust="spacingAndGlyphs">0</text>
<path d="M1821.8,730.5 L1814.8,730.5 M1818.2,727.2 L1814.8,730.5 L1818.2,733.8" fill="none" stroke="#333" stroke-width="1"/>
<path d="M1848,13.8 h7.5" stroke="#444" stroke-width="1.2" fill="none"/>
<rect x="1861" y="7.6000000000000005" width="6.6" height="6" fill="none" stroke="#444" stroke-width="1.1"/><path d="M1860.5,7.7 h7.6" stroke="#444" stroke-width="1.9"/>
<path d="M1873.3,7.1000000000000005 l7.2,6.8 m0,-6.8 l-7.2,6.8" stroke="#444" stroke-width="1.3" fill="none"/>
<rect x="1845.5" y="588" width="10.5" height="12.5" fill="#efefef"/><rect x="1858" y="588" width="11" height="12.5" fill="#efefef"/><rect x="1871" y="588" width="11.5" height="12.5" fill="#efefef"/>
<path d="M1848,597.6999999999999 h7.5" stroke="#444" stroke-width="1.2" fill="none"/>
<rect x="1861" y="591.5" width="6.6" height="6" fill="none" stroke="#444" stroke-width="1.1"/><path d="M1860.5,591.5999999999999 h7.6" stroke="#444" stroke-width="1.9"/>
<path d="M1873.3,591.0 l7.2,6.8 m0,-6.8 l-7.2,6.8" stroke="#444" stroke-width="1.3" fill="none"/>
<rect x="1864.5" y="20.5" width="20" height="19.5" fill="#fdfdfd" stroke="#b4b4b4" stroke-width="1"/>
<path d="M1869,24 v12 h12 M1869,24 h3 M1869,28 h2 M1869,32 h2 M1873,36 v-2 M1877,36 v-2 M1881,36 v-2" stroke="#bdbdbd" stroke-width="1" fill="none"/>
<rect x="0" y="781" width="1886" height="1" fill="#333"/>
<line x1="31.2" y1="781.5" x2="31.2" y2="790.5" stroke="#333" stroke-width="1.2"/>
<text x="33.0" y="797.6" font-size="11.5" fill="#333" textLength="52.5" lengthAdjust="spacingAndGlyphs">01-Dic-19</text>
<line x1="148.5" y1="769.5" x2="148.5" y2="790.5" stroke="#333" stroke-width="1.2"/>
<text x="150.3" y="797.6" font-size="11.5" fill="#333" textLength="52.5" lengthAdjust="spacingAndGlyphs">01-Ene-20</text>
<text x="150.3" y="776.6" font-size="11.5" fill="#333" textLength="23.5" lengthAdjust="spacingAndGlyphs">2020</text>
<line x1="265.5" y1="781.5" x2="265.5" y2="790.5" stroke="#333" stroke-width="1.2"/>
<text x="267.3" y="797.6" font-size="11.5" fill="#333" textLength="52.5" lengthAdjust="spacingAndGlyphs">01-Feb-20</text>
<line x1="374.5" y1="781.5" x2="374.5" y2="790.5" stroke="#333" stroke-width="1.2"/>
<text x="376.3" y="797.6" font-size="11.5" fill="#333" textLength="52.5" lengthAdjust="spacingAndGlyphs">01-Mar-20</text>
<line x1="498.5" y1="781.5" x2="498.5" y2="790.5" stroke="#333" stroke-width="1.2"/>
<text x="500.3" y="797.6" font-size="11.5" fill="#333" textLength="52.5" lengthAdjust="spacingAndGlyphs">01-Abr-20</text>
<line x1="616.7" y1="781.5" x2="616.7" y2="790.5" stroke="#333" stroke-width="1.2"/>
<text x="618.5" y="797.6" font-size="11.5" fill="#333" textLength="52.5" lengthAdjust="spacingAndGlyphs">01-May-20</text>
<line x1="728.3" y1="781.5" x2="728.3" y2="790.5" stroke="#333" stroke-width="1.2"/>
<text x="730.0999999999999" y="797.6" font-size="11.5" fill="#333" textLength="52.5" lengthAdjust="spacingAndGlyphs">01-Jun-20</text>
<line x1="851.3" y1="781.5" x2="851.3" y2="790.5" stroke="#333" stroke-width="1.2"/>
<text x="853.0999999999999" y="797.6" font-size="11.5" fill="#333" textLength="52.5" lengthAdjust="spacingAndGlyphs">01-Jul-20</text>
<line x1="972.3" y1="781.5" x2="972.3" y2="790.5" stroke="#333" stroke-width="1.2"/>
<text x="974.0999999999999" y="797.6" font-size="11.5" fill="#333" textLength="52.5" lengthAdjust="spacingAndGlyphs">01-Ago-20</text>
<line x1="1093.3" y1="781.5" x2="1093.3" y2="790.5" stroke="#333" stroke-width="1.2"/>
<text x="1095.1" y="797.6" font-size="11.5" fill="#333" textLength="52.5" lengthAdjust="spacingAndGlyphs">01-Sep-20</text>
<line x1="1210.7" y1="781.5" x2="1210.7" y2="790.5" stroke="#333" stroke-width="1.2"/>
<text x="1212.5" y="797.6" font-size="11.5" fill="#333" textLength="52.5" lengthAdjust="spacingAndGlyphs">01-Oct-20</text>
<line x1="1333.3" y1="781.5" x2="1333.3" y2="790.5" stroke="#333" stroke-width="1.2"/>
<text x="1335.1" y="797.6" font-size="11.5" fill="#333" textLength="52.5" lengthAdjust="spacingAndGlyphs">01-Nov-20</text>
<line x1="1446.3" y1="781.5" x2="1446.3" y2="790.5" stroke="#333" stroke-width="1.2"/>
<text x="1448.1" y="797.6" font-size="11.5" fill="#333" textLength="52.5" lengthAdjust="spacingAndGlyphs">01-Dic-20</text>
<line x1="1575.3" y1="769.5" x2="1575.3" y2="790.5" stroke="#333" stroke-width="1.2"/>
<text x="1577.1" y="797.6" font-size="11.5" fill="#333" textLength="52.5" lengthAdjust="spacingAndGlyphs">01-Ene-21</text>
<text x="1577.1" y="776.6" font-size="11.5" fill="#333" textLength="23.5" lengthAdjust="spacingAndGlyphs">2021</text>
<line x1="1693.3" y1="781.5" x2="1693.3" y2="790.5" stroke="#333" stroke-width="1.2"/>
<text x="1695.1" y="797.6" font-size="11.5" fill="#333" textLength="52.5" lengthAdjust="spacingAndGlyphs">01-Feb-21</text>
<line x1="1805.5" y1="781.5" x2="1805.5" y2="792" stroke="#333" stroke-width="1.2"/>
<rect x="1806.5" y="783.5" width="17" height="16" fill="#fdfdfd" stroke="#adadad" stroke-width="1"/>
<path d="M1811.1,789.3 L1813.6,786.3 L1817.4,791.1 L1820.6,787.3" stroke="#9a8880" stroke-width="1.2" fill="none"/>
<path d="M1811.1,791.8 L1813.6,789.3 L1817.4,794.4 L1820.9,790.4" stroke="#3c96dc" stroke-width="1.4" fill="none"/>
<rect x="1828.5" y="783.5" width="35" height="16" fill="#fdfdfd" stroke="#adadad" stroke-width="1"/>
<path d="M1833,785.3 h12 v11.4 h-12 z" fill="#8250c8"/>
<rect x="1836" y="785.3" width="6.2" height="4.8" fill="#fbf8ff"/>
<rect x="1836.4" y="793.2" width="5.6" height="2.8" fill="#fbf8ff"/>
<rect x="1837.2" y="794" width="1" height="1" fill="#8250c8"/>
<path d="M1852,791.5 h3.5 M1855.5,788.3 v6.6" stroke="#3a3a3a" stroke-width="1.1" fill="none"/>
<path d="M1855.5,789.6 h4.2 v3.4 h-4.2" stroke="#3a3a3a" stroke-width="1" fill="none"/><path d="M1855.5,793.2 h4.6" stroke="#3a3a3a" stroke-width="1.5" fill="none"/>
<rect x="1868.5" y="783.5" width="17" height="16" fill="#fdfdfd" stroke="#adadad" stroke-width="1"/>
<rect x="1871.1" y="786.1" width="11.8" height="10.8" fill="#000"/>
<rect x="1886" y="0" width="2" height="805" fill="#ffffff"/>
<rect x="1887.8" y="0" width="1.2" height="805" fill="#cf9a72"/>
<rect x="1889" y="0" width="1" height="805" fill="#98a4b0"/>
<text x="0" y="13.8" font-size="11" fill="#0a0a0a" textLength="8" lengthAdjust="spacingAndGlyphs">. -</text>
<text x="11.1" y="13.8" font-size="11" fill="#0a0a0a" textLength="51" lengthAdjust="spacingAndGlyphs">TESLA INC</text>
<text x="65.5" y="13.8" font-size="11" fill="#0a0a0a" textLength="3.5" lengthAdjust="spacingAndGlyphs">-</text>
<text x="75.4" y="13.8" font-size="11" fill="#0a0a0a" textLength="14.6" lengthAdjust="spacingAndGlyphs">1 d</text>
<text x="96.6" y="13.8" font-size="11" fill="#0a0a0a" textLength="31.7" lengthAdjust="spacingAndGlyphs">Dif. %:</text>
<text x="132.3" y="13.8" font-size="11" fill="#4a90d9" textLength="20.7" lengthAdjust="spacingAndGlyphs">1,27</text>
<text x="158.2" y="13.8" font-size="11" fill="#0a0a0a" textLength="19.6" lengthAdjust="spacingAndGlyphs">Dif.:</text>
<text x="182.5" y="13.8" font-size="11" fill="#4a90d9" textLength="32.3" lengthAdjust="spacingAndGlyphs">8,1200</text>
<text x="221" y="13.8" font-size="11" fill="#0a0a0a" textLength="11.5" lengthAdjust="spacingAndGlyphs">M:</text>
<text x="236.2" y="13.8" font-size="11" fill="#0a0a0a" textLength="44.2" lengthAdjust="spacingAndGlyphs">651,2800</text>
<text x="286.2" y="13.8" font-size="11" fill="#0a0a0a" textLength="11.5" lengthAdjust="spacingAndGlyphs">m:</text>
<text x="301.6" y="13.8" font-size="11" fill="#0a0a0a" textLength="43.6" lengthAdjust="spacingAndGlyphs">618,5000</text>
<text x="351.9" y="13.8" font-size="11" fill="#0a0a0a" textLength="8" lengthAdjust="spacingAndGlyphs">F:</text>
<text x="363.8" y="13.8" font-size="11" fill="#0a0a0a" textLength="55" lengthAdjust="spacingAndGlyphs">08-12-2020</text>
<text x="424.6" y="13.8" font-size="11" fill="#ff1010" textLength="9.5" lengthAdjust="spacingAndGlyphs">P :</text>
<text x="439.2" y="13.8" font-size="11" fill="#ff1010" textLength="44.4" lengthAdjust="spacingAndGlyphs">498,4500</text>
<text x="-14" y="598" font-size="11" fill="#4a8cd2" textLength="52" lengthAdjust="spacingAndGlyphs">MACD_TSLA</text>
<text x="43.7" y="598" font-size="11" fill="#4a8cd2" textLength="33.8" lengthAdjust="spacingAndGlyphs">MACD:</text>
<text x="81.5" y="598" font-size="11" fill="#0a0a0a" textLength="38.1" lengthAdjust="spacingAndGlyphs">52,2317</text>
<text x="125.7" y="598" font-size="11" fill="#4a8cd2" textLength="50.3" lengthAdjust="spacingAndGlyphs">MediaSIG:</text>
<text x="180.4" y="598" font-size="11" fill="#0a0a0a" textLength="38.1" lengthAdjust="spacingAndGlyphs">40,7012</text>
<text x="224.3" y="598" font-size="11" fill="#0a0a0a" textLength="64.6" lengthAdjust="spacingAndGlyphs">Band_MACD:</text>
<text x="293.1" y="598" font-size="11" fill="#0a0a0a" textLength="32.3" lengthAdjust="spacingAndGlyphs">0,0000</text>
<text x="331.2" y="598" font-size="11" fill="#ff1010" textLength="8" lengthAdjust="spacingAndGlyphs">P:</text>
<text x="343.4" y="598" font-size="11" fill="#ff1010" textLength="41.8" lengthAdjust="spacingAndGlyphs">-28,1443</text>
</svg>
</body></html>
